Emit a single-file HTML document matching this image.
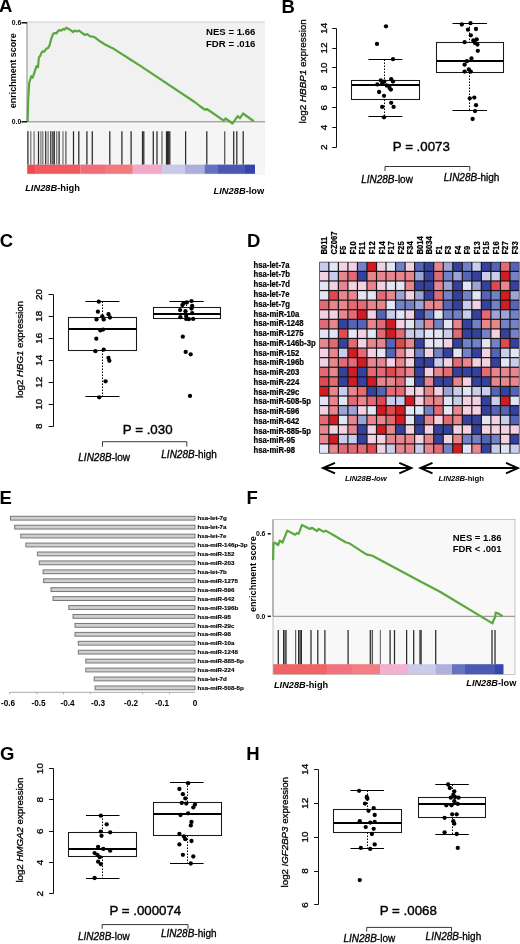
<!DOCTYPE html>
<html><head><meta charset="utf-8"><style>
html,body{margin:0;padding:0;background:#fff;}
body{width:520px;height:944px;overflow:hidden;}
svg{display:block;font-family:"Liberation Sans", sans-serif;filter:blur(0.4px);}
</style></head><body>
<svg width="520" height="944" viewBox="0 0 520 944">
<rect x="0" y="0" width="520" height="944" fill="#fff"/>
<text x="-1.0" y="12.4" font-size="18.5" font-weight="bold" font-style="normal" text-anchor="start" fill="#000">A</text>
<text x="281.5" y="12.5" font-size="18.5" font-weight="bold" font-style="normal" text-anchor="start" fill="#000">B</text>
<text x="-0.2" y="246.6" font-size="18.5" font-weight="bold" font-style="normal" text-anchor="start" fill="#000">C</text>
<text x="247.1" y="247.0" font-size="18.5" font-weight="bold" font-style="normal" text-anchor="start" fill="#000">D</text>
<text x="-0.6" y="503.7" font-size="18.5" font-weight="bold" font-style="normal" text-anchor="start" fill="#000">E</text>
<text x="246.4" y="503.6" font-size="18.5" font-weight="bold" font-style="normal" text-anchor="start" fill="#000">F</text>
<text x="-0.1" y="759.9" font-size="18.5" font-weight="bold" font-style="normal" text-anchor="start" fill="#000">G</text>
<text x="246.3" y="760.0" font-size="18.5" font-weight="bold" font-style="normal" text-anchor="start" fill="#000">H</text>
<rect x="27" y="22" width="238" height="153" fill="#f1f1f1" stroke="none" stroke-width="1"/>
<rect x="27" y="121.8" width="238" height="53.2" fill="#f5f5f5" stroke="none" stroke-width="1"/>
<line x1="27" y1="22" x2="265" y2="22" stroke="#c4c4c4" stroke-width="0.8"/>
<line x1="27" y1="22" x2="27" y2="121.8" stroke="#8a8a8a" stroke-width="1"/>
<line x1="27" y1="121.8" x2="265" y2="121.8" stroke="#7a7a7a" stroke-width="0.9"/>
<rect x="27.2" y="164.6" width="8.599999999999998" height="9.200000000000017" fill="#ef4a4e" stroke="none" stroke-width="1"/>
<rect x="35.8" y="164.6" width="44.5" height="9.200000000000017" fill="#f05a5e" stroke="none" stroke-width="1"/>
<rect x="80.3" y="164.6" width="24.700000000000003" height="9.200000000000017" fill="#f16e79" stroke="none" stroke-width="1"/>
<rect x="105" y="164.6" width="27.80000000000001" height="9.200000000000017" fill="#f27a7e" stroke="none" stroke-width="1"/>
<rect x="132.8" y="164.6" width="29.5" height="9.200000000000017" fill="#f4a9c9" stroke="none" stroke-width="1"/>
<rect x="162.3" y="164.6" width="22.69999999999999" height="9.200000000000017" fill="#c9c9e8" stroke="none" stroke-width="1"/>
<rect x="185" y="164.6" width="19.5" height="9.200000000000017" fill="#aeaedb" stroke="none" stroke-width="1"/>
<rect x="204.5" y="164.6" width="13.5" height="9.200000000000017" fill="#6272c0" stroke="none" stroke-width="1"/>
<rect x="218" y="164.6" width="27" height="9.200000000000017" fill="#4a58b2" stroke="none" stroke-width="1"/>
<rect x="245" y="164.6" width="10" height="9.200000000000017" fill="#3545ad" stroke="none" stroke-width="1"/>
<line x1="27.9" y1="131.3" x2="27.9" y2="164.6" stroke="#2a2a2a" stroke-width="1.25"/>
<line x1="30.8" y1="131.3" x2="30.8" y2="164.6" stroke="#777" stroke-width="1.25"/>
<line x1="34.1" y1="131.3" x2="34.1" y2="164.6" stroke="#777" stroke-width="1.25"/>
<line x1="38.5" y1="131.3" x2="38.5" y2="164.6" stroke="#2a2a2a" stroke-width="1.25"/>
<line x1="40.9" y1="131.3" x2="40.9" y2="164.6" stroke="#777" stroke-width="1.25"/>
<line x1="42.8" y1="131.3" x2="42.8" y2="164.6" stroke="#777" stroke-width="1.25"/>
<line x1="45.7" y1="131.3" x2="45.7" y2="164.6" stroke="#2a2a2a" stroke-width="1.25"/>
<line x1="48.1" y1="131.3" x2="48.1" y2="164.6" stroke="#777" stroke-width="1.25"/>
<line x1="50.8" y1="131.3" x2="50.8" y2="164.6" stroke="#2a2a2a" stroke-width="1.25"/>
<line x1="52.9" y1="131.3" x2="52.9" y2="164.6" stroke="#2a2a2a" stroke-width="1.25"/>
<line x1="54.3" y1="131.3" x2="54.3" y2="164.6" stroke="#2a2a2a" stroke-width="1.25"/>
<line x1="56.7" y1="131.3" x2="56.7" y2="164.6" stroke="#777" stroke-width="1.25"/>
<line x1="59.1" y1="131.3" x2="59.1" y2="164.6" stroke="#2a2a2a" stroke-width="1.25"/>
<line x1="63.0" y1="131.3" x2="63.0" y2="164.6" stroke="#777" stroke-width="1.25"/>
<line x1="65.9" y1="131.3" x2="65.9" y2="164.6" stroke="#555" stroke-width="1.25"/>
<line x1="73.5" y1="131.3" x2="73.5" y2="164.6" stroke="#2a2a2a" stroke-width="1.25"/>
<line x1="78.8" y1="131.3" x2="78.8" y2="164.6" stroke="#2a2a2a" stroke-width="1.25"/>
<line x1="86.9" y1="131.3" x2="86.9" y2="164.6" stroke="#2a2a2a" stroke-width="1.25"/>
<line x1="92.3" y1="131.3" x2="92.3" y2="164.6" stroke="#2a2a2a" stroke-width="1.25"/>
<line x1="109.8" y1="131.3" x2="109.8" y2="164.6" stroke="#2a2a2a" stroke-width="1.25"/>
<line x1="121.9" y1="131.3" x2="121.9" y2="164.6" stroke="#2a2a2a" stroke-width="1.25"/>
<line x1="131.1" y1="131.3" x2="131.1" y2="164.6" stroke="#2a2a2a" stroke-width="1.25"/>
<line x1="142.5" y1="131.3" x2="142.5" y2="164.6" stroke="#2a2a2a" stroke-width="1.25"/>
<line x1="143.8" y1="131.3" x2="143.8" y2="164.6" stroke="#2a2a2a" stroke-width="1.25"/>
<line x1="153.3" y1="131.3" x2="153.3" y2="164.6" stroke="#2a2a2a" stroke-width="1.25"/>
<line x1="157" y1="131.3" x2="157" y2="164.6" stroke="#2a2a2a" stroke-width="1.25"/>
<line x1="162" y1="131.3" x2="162" y2="164.6" stroke="#666" stroke-width="1.25"/>
<line x1="166.5" y1="131.3" x2="166.5" y2="164.6" stroke="#2a2a2a" stroke-width="1.25"/>
<line x1="167.6" y1="131.3" x2="167.6" y2="164.6" stroke="#2a2a2a" stroke-width="1.25"/>
<line x1="168.7" y1="131.3" x2="168.7" y2="164.6" stroke="#2a2a2a" stroke-width="1.25"/>
<line x1="169.8" y1="131.3" x2="169.8" y2="164.6" stroke="#2a2a2a" stroke-width="1.25"/>
<line x1="185.6" y1="131.3" x2="185.6" y2="164.6" stroke="#2a2a2a" stroke-width="1.25"/>
<line x1="206.8" y1="131.3" x2="206.8" y2="164.6" stroke="#2a2a2a" stroke-width="1.25"/>
<line x1="224.7" y1="131.3" x2="224.7" y2="164.6" stroke="#555" stroke-width="1.25"/>
<line x1="233.7" y1="131.3" x2="233.7" y2="164.6" stroke="#2a2a2a" stroke-width="1.25"/>
<line x1="236.8" y1="131.3" x2="236.8" y2="164.6" stroke="#2a2a2a" stroke-width="1.25"/>
<line x1="243.2" y1="131.3" x2="243.2" y2="164.6" stroke="#2a2a2a" stroke-width="1.25"/>
<polyline points="27.6,122 28.2,100 28.8,89 29.3,82.5 31.25,76.25 32.7,77.7 34.6,71.9 36.5,66.2 38,67.1 38.9,57.5 40.4,55.6 41.3,53.2 42.8,51.25 44.2,51.7 46.2,48.8 48.1,47.9 49.5,45.5 51,39.7 52.9,34.4 54.3,33 56.25,33.5 57.7,31.5 59.1,30.1 61.1,30.6 63,29.1 64.4,29.6 66.3,27.7 68.3,28.7 71.2,30.6 73.1,32 74.6,30.6 76.9,31.5 79.2,30.6 81.5,32.5 85,35 87.3,34.1 90.2,36.5 93.1,36.7 94.8,37.3 100,41.3 104.6,44.2 111.5,47.7 113.8,48.8 120.8,53.4 130,59.2 140,65.6 195,102.25 200,106.25 205,109.75 206.9,109 223.75,120.6 225.6,118.5 232.5,123.5 233.75,121.9 235,120 237.5,116.25 240,118.1 243.1,113.5 253.75,121.25" fill="none" stroke="#5aa83e" stroke-width="2.2" stroke-linejoin="round"/>
<line x1="21.5" y1="22.8" x2="27" y2="22.8" stroke="#000" stroke-width="1.4"/>
<line x1="21.5" y1="121.8" x2="27" y2="121.8" stroke="#000" stroke-width="1.4"/>
<text x="21.3" y="24.9" font-size="6.8" font-weight="bold" font-style="normal" text-anchor="end" fill="#000">0.6</text>
<text x="21.3" y="123.9" font-size="6.8" font-weight="bold" font-style="normal" text-anchor="end" fill="#000">0.0</text>
<text x="16.2" y="70.7" font-size="9.0" font-weight="bold" font-style="normal" text-anchor="middle" fill="#000" transform="rotate(-90 16.2 70.7)">enrichment score</text>
<text x="206.0" y="35.3" font-size="9.6" font-weight="bold" font-style="normal" text-anchor="start" fill="#000">NES = 1.66</text>
<text x="206.0" y="46.6" font-size="9.6" font-weight="bold" font-style="normal" text-anchor="start" fill="#000">FDR = .016</text>
<text x="25.2" y="190.5" font-size="9.3" font-weight="bold" text-anchor="start"><tspan font-style="italic">LIN28B</tspan>-high</text>
<text x="213.6" y="193.6" font-size="9.3" font-weight="bold" text-anchor="start"><tspan font-style="italic">LIN28B</tspan>-low</text>
<line x1="336.5" y1="28.5" x2="336.5" y2="147.5" stroke="#111" stroke-width="1.0"/>
<line x1="332.3" y1="28.5" x2="336.5" y2="28.5" stroke="#111" stroke-width="1.0"/>
<text x="323.05" y="28.2" font-size="9.9" font-weight="normal" font-style="normal" text-anchor="middle" fill="#000" transform="rotate(-90 323.05 28.2)" dominant-baseline="central" stroke="#000" stroke-width="0.3">14</text>
<line x1="332.3" y1="48.5" x2="336.5" y2="48.5" stroke="#111" stroke-width="1.0"/>
<text x="323.05" y="48.06" font-size="9.9" font-weight="normal" font-style="normal" text-anchor="middle" fill="#000" transform="rotate(-90 323.05 48.06)" dominant-baseline="central" stroke="#000" stroke-width="0.3">12</text>
<line x1="332.3" y1="67.5" x2="336.5" y2="67.5" stroke="#111" stroke-width="1.0"/>
<text x="323.05" y="67.92" font-size="9.9" font-weight="normal" font-style="normal" text-anchor="middle" fill="#000" transform="rotate(-90 323.05 67.92)" dominant-baseline="central" stroke="#000" stroke-width="0.3">10</text>
<line x1="332.3" y1="87.5" x2="336.5" y2="87.5" stroke="#111" stroke-width="1.0"/>
<text x="323.05" y="87.78" font-size="9.9" font-weight="normal" font-style="normal" text-anchor="middle" fill="#000" transform="rotate(-90 323.05 87.78)" dominant-baseline="central" stroke="#000" stroke-width="0.3">8</text>
<line x1="332.3" y1="107.5" x2="336.5" y2="107.5" stroke="#111" stroke-width="1.0"/>
<text x="323.05" y="107.64" font-size="9.9" font-weight="normal" font-style="normal" text-anchor="middle" fill="#000" transform="rotate(-90 323.05 107.64)" dominant-baseline="central" stroke="#000" stroke-width="0.3">6</text>
<line x1="332.3" y1="127.5" x2="336.5" y2="127.5" stroke="#111" stroke-width="1.0"/>
<text x="323.05" y="127.5" font-size="9.9" font-weight="normal" font-style="normal" text-anchor="middle" fill="#000" transform="rotate(-90 323.05 127.5)" dominant-baseline="central" stroke="#000" stroke-width="0.3">4</text>
<line x1="332.3" y1="147.5" x2="336.5" y2="147.5" stroke="#111" stroke-width="1.0"/>
<text x="323.05" y="147.35999999999999" font-size="9.9" font-weight="normal" font-style="normal" text-anchor="middle" fill="#000" transform="rotate(-90 323.05 147.35999999999999)" dominant-baseline="central" stroke="#000" stroke-width="0.3">2</text>
<line x1="384.5" y1="59.5" x2="384.5" y2="80.5" stroke="#000" stroke-width="1.0" stroke-dasharray="1.5,1.5"/>
<line x1="384.5" y1="99.5" x2="384.5" y2="116.5" stroke="#000" stroke-width="1.0" stroke-dasharray="1.5,1.5"/>
<line x1="368.4" y1="59.5" x2="402.3" y2="59.5" stroke="#000" stroke-width="1.1"/>
<line x1="368.4" y1="116.5" x2="402.3" y2="116.5" stroke="#000" stroke-width="1.1"/>
<rect x="351.5" y="80.5" width="68.0" height="19.0" fill="none" stroke="#1a1a1a" stroke-width="1.05"/>
<line x1="351.5" y1="85" x2="419.5" y2="85" stroke="#000" stroke-width="2.1"/>
<line x1="469.5" y1="23.5" x2="469.5" y2="42.5" stroke="#000" stroke-width="1.0" stroke-dasharray="1.5,1.5"/>
<line x1="469.5" y1="72.5" x2="469.5" y2="110.5" stroke="#000" stroke-width="1.0" stroke-dasharray="1.5,1.5"/>
<line x1="452.5" y1="23.5" x2="487.0" y2="23.5" stroke="#000" stroke-width="1.1"/>
<line x1="452.5" y1="110.5" x2="487.0" y2="110.5" stroke="#000" stroke-width="1.1"/>
<rect x="436.5" y="42.5" width="67.0" height="30.0" fill="none" stroke="#1a1a1a" stroke-width="1.05"/>
<line x1="436.5" y1="61" x2="503.5" y2="61" stroke="#000" stroke-width="2.1"/>
<circle cx="386" cy="26.3" r="2.15" fill="#000"/>
<circle cx="377" cy="43.9" r="2.15" fill="#000"/>
<circle cx="393" cy="59.2" r="2.15" fill="#000"/>
<circle cx="380.8" cy="80.3" r="2.15" fill="#000"/>
<circle cx="384.3" cy="81.6" r="2.15" fill="#000"/>
<circle cx="391.2" cy="79.2" r="2.15" fill="#000"/>
<circle cx="393" cy="81.6" r="2.15" fill="#000"/>
<circle cx="377.4" cy="84.4" r="2.15" fill="#000"/>
<circle cx="382.2" cy="83.7" r="2.15" fill="#000"/>
<circle cx="386.7" cy="85.5" r="2.15" fill="#000"/>
<circle cx="389.5" cy="87.9" r="2.15" fill="#000"/>
<circle cx="379.1" cy="92" r="2.15" fill="#000"/>
<circle cx="390.9" cy="89.6" r="2.15" fill="#000"/>
<circle cx="384" cy="95.8" r="2.15" fill="#000"/>
<circle cx="391.2" cy="102.8" r="2.15" fill="#000"/>
<circle cx="382.2" cy="106.9" r="2.15" fill="#000"/>
<circle cx="393.6" cy="106.9" r="2.15" fill="#000"/>
<circle cx="384" cy="117.3" r="2.15" fill="#000"/>
<circle cx="461.8" cy="24.5" r="2.15" fill="#000"/>
<circle cx="470.5" cy="23.2" r="2.15" fill="#000"/>
<circle cx="468" cy="29.7" r="2.15" fill="#000"/>
<circle cx="476" cy="29" r="2.15" fill="#000"/>
<circle cx="470.8" cy="35.3" r="2.15" fill="#000"/>
<circle cx="464.6" cy="42.2" r="2.15" fill="#000"/>
<circle cx="473.3" cy="40.5" r="2.15" fill="#000"/>
<circle cx="476.7" cy="39.4" r="2.15" fill="#000"/>
<circle cx="475" cy="42.9" r="2.15" fill="#000"/>
<circle cx="477.4" cy="44.6" r="2.15" fill="#000"/>
<circle cx="477.8" cy="50.8" r="2.15" fill="#000"/>
<circle cx="471.5" cy="58.5" r="2.15" fill="#000"/>
<circle cx="467" cy="61.2" r="2.15" fill="#000"/>
<circle cx="464.6" cy="64.7" r="2.15" fill="#000"/>
<circle cx="468.8" cy="69.5" r="2.15" fill="#000"/>
<circle cx="464.6" cy="71.6" r="2.15" fill="#000"/>
<circle cx="470.8" cy="71.6" r="2.15" fill="#000"/>
<circle cx="469.8" cy="98.3" r="2.15" fill="#000"/>
<circle cx="474.3" cy="97.6" r="2.15" fill="#000"/>
<circle cx="476" cy="105.2" r="2.15" fill="#000"/>
<circle cx="475" cy="111.1" r="2.15" fill="#000"/>
<circle cx="472.6" cy="119" r="2.15" fill="#000"/>
<text x="306.2" y="71.3" font-size="9.9" text-anchor="middle" stroke="#000" stroke-width="0.3" transform="rotate(-90 306.2 71.3)">log2 <tspan font-style="italic">HBBP1</tspan> expression</text>
<text x="421.35" y="151.2" font-size="13.3" font-weight="normal" font-style="normal" text-anchor="middle" fill="#000" stroke="#000" stroke-width="0.4">P = .0073</text>
<polyline points="385,171 385,166.5 469.8,166.5 469.8,171" fill="none" stroke="#000" stroke-width="0.8"/>
<text x="361.2" y="183" font-size="10" font-weight="normal" text-anchor="start" stroke="#000" stroke-width="0.3"><tspan font-style="italic">LIN28B</tspan>-low</text>
<text x="443.8" y="180.6" font-size="10" font-weight="normal" text-anchor="start" stroke="#000" stroke-width="0.3"><tspan font-style="italic">LIN28B</tspan>-high</text>
<line x1="53.5" y1="294.5" x2="53.5" y2="426.5" stroke="#111" stroke-width="1.0"/>
<line x1="48.6" y1="294.5" x2="53.5" y2="294.5" stroke="#111" stroke-width="1.0"/>
<text x="38.75" y="294.4" font-size="9.9" font-weight="normal" font-style="normal" text-anchor="middle" fill="#000" transform="rotate(-90 38.75 294.4)" dominant-baseline="central" stroke="#000" stroke-width="0.3">20</text>
<line x1="48.6" y1="316.5" x2="53.5" y2="316.5" stroke="#111" stroke-width="1.0"/>
<text x="38.75" y="316.35999999999996" font-size="9.9" font-weight="normal" font-style="normal" text-anchor="middle" fill="#000" transform="rotate(-90 38.75 316.35999999999996)" dominant-baseline="central" stroke="#000" stroke-width="0.3">18</text>
<line x1="48.6" y1="338.5" x2="53.5" y2="338.5" stroke="#111" stroke-width="1.0"/>
<text x="38.75" y="338.32" font-size="9.9" font-weight="normal" font-style="normal" text-anchor="middle" fill="#000" transform="rotate(-90 38.75 338.32)" dominant-baseline="central" stroke="#000" stroke-width="0.3">16</text>
<line x1="48.6" y1="360.5" x2="53.5" y2="360.5" stroke="#111" stroke-width="1.0"/>
<text x="38.75" y="360.28" font-size="9.9" font-weight="normal" font-style="normal" text-anchor="middle" fill="#000" transform="rotate(-90 38.75 360.28)" dominant-baseline="central" stroke="#000" stroke-width="0.3">14</text>
<line x1="48.6" y1="382.5" x2="53.5" y2="382.5" stroke="#111" stroke-width="1.0"/>
<text x="38.75" y="382.24" font-size="9.9" font-weight="normal" font-style="normal" text-anchor="middle" fill="#000" transform="rotate(-90 38.75 382.24)" dominant-baseline="central" stroke="#000" stroke-width="0.3">12</text>
<line x1="48.6" y1="404.5" x2="53.5" y2="404.5" stroke="#111" stroke-width="1.0"/>
<text x="38.75" y="404.2" font-size="9.9" font-weight="normal" font-style="normal" text-anchor="middle" fill="#000" transform="rotate(-90 38.75 404.2)" dominant-baseline="central" stroke="#000" stroke-width="0.3">10</text>
<line x1="48.6" y1="426.5" x2="53.5" y2="426.5" stroke="#111" stroke-width="1.0"/>
<text x="38.75" y="426.15999999999997" font-size="9.9" font-weight="normal" font-style="normal" text-anchor="middle" fill="#000" transform="rotate(-90 38.75 426.15999999999997)" dominant-baseline="central" stroke="#000" stroke-width="0.3">8</text>
<line x1="102.5" y1="301.5" x2="102.5" y2="317.5" stroke="#000" stroke-width="1.0" stroke-dasharray="1.5,1.5"/>
<line x1="102.5" y1="350.5" x2="102.5" y2="396.5" stroke="#000" stroke-width="1.0" stroke-dasharray="1.5,1.5"/>
<line x1="85.4" y1="301.5" x2="119.4" y2="301.5" stroke="#000" stroke-width="1.1"/>
<line x1="85.4" y1="396.5" x2="119.4" y2="396.5" stroke="#000" stroke-width="1.1"/>
<rect x="68.5" y="317.5" width="68.0" height="33.0" fill="none" stroke="#1a1a1a" stroke-width="1.05"/>
<line x1="68.5" y1="329" x2="136.5" y2="329" stroke="#000" stroke-width="2.1"/>
<line x1="186.5" y1="301.5" x2="186.5" y2="307.5" stroke="#000" stroke-width="1.0" stroke-dasharray="1.5,1.5"/>
<line x1="186.5" y1="318.5" x2="186.5" y2="318.5" stroke="#000" stroke-width="1.0" stroke-dasharray="1.5,1.5"/>
<line x1="169.5" y1="301.5" x2="203.7" y2="301.5" stroke="#000" stroke-width="1.1"/>
<line x1="169.5" y1="318.5" x2="203.7" y2="318.5" stroke="#000" stroke-width="1.1"/>
<rect x="153.5" y="307.5" width="67.0" height="11.0" fill="none" stroke="#1a1a1a" stroke-width="1.05"/>
<line x1="153.5" y1="314" x2="220.5" y2="314" stroke="#000" stroke-width="2.1"/>
<circle cx="98.8" cy="301.7" r="2.15" fill="#000"/>
<circle cx="97.9" cy="311.7" r="2.15" fill="#000"/>
<circle cx="96.5" cy="319.4" r="2.15" fill="#000"/>
<circle cx="102.3" cy="316.5" r="2.15" fill="#000"/>
<circle cx="103.7" cy="319.4" r="2.15" fill="#000"/>
<circle cx="108.5" cy="314.2" r="2.15" fill="#000"/>
<circle cx="110" cy="317.5" r="2.15" fill="#000"/>
<circle cx="100.4" cy="330.4" r="2.15" fill="#000"/>
<circle cx="103.1" cy="329.6" r="2.15" fill="#000"/>
<circle cx="96.3" cy="338.7" r="2.15" fill="#000"/>
<circle cx="95.4" cy="351.2" r="2.15" fill="#000"/>
<circle cx="103.7" cy="349.6" r="2.15" fill="#000"/>
<circle cx="108.5" cy="357.9" r="2.15" fill="#000"/>
<circle cx="109.4" cy="360.8" r="2.15" fill="#000"/>
<circle cx="105.6" cy="381.3" r="2.15" fill="#000"/>
<circle cx="99.2" cy="397.3" r="2.15" fill="#000"/>
<circle cx="183.5" cy="303.4" r="2.15" fill="#000"/>
<circle cx="186.8" cy="302.4" r="2.15" fill="#000"/>
<circle cx="191.5" cy="301.1" r="2.15" fill="#000"/>
<circle cx="182.4" cy="305.1" r="2.15" fill="#000"/>
<circle cx="192.2" cy="305.8" r="2.15" fill="#000"/>
<circle cx="191.5" cy="308.5" r="2.15" fill="#000"/>
<circle cx="180.1" cy="310.1" r="2.15" fill="#000"/>
<circle cx="185.5" cy="311.2" r="2.15" fill="#000"/>
<circle cx="192.2" cy="313.2" r="2.15" fill="#000"/>
<circle cx="180.4" cy="317.2" r="2.15" fill="#000"/>
<circle cx="186.2" cy="315.9" r="2.15" fill="#000"/>
<circle cx="186.2" cy="318.9" r="2.15" fill="#000"/>
<circle cx="188.8" cy="319.2" r="2.15" fill="#000"/>
<circle cx="193.2" cy="318.9" r="2.15" fill="#000"/>
<circle cx="182.8" cy="336.7" r="2.15" fill="#000"/>
<circle cx="185.7" cy="351.9" r="2.15" fill="#000"/>
<circle cx="190.7" cy="354.3" r="2.15" fill="#000"/>
<circle cx="190" cy="395.9" r="2.15" fill="#000"/>
<text x="23.3" y="349.5" font-size="9.7" text-anchor="middle" stroke="#000" stroke-width="0.3" transform="rotate(-90 23.3 349.5)">log2 <tspan font-style="italic">HBG1</tspan> expression</text>
<text x="147.7" y="433.6" font-size="13.3" font-weight="normal" font-style="normal" text-anchor="middle" fill="#000" stroke="#000" stroke-width="0.4">P = .030</text>
<polyline points="102.5,446.6 102.5,441.7 186.8,441.7 186.8,446.6" fill="none" stroke="#000" stroke-width="0.8"/>
<text x="78.3" y="460.5" font-size="10" font-weight="normal" text-anchor="start" stroke="#000" stroke-width="0.3"><tspan font-style="italic">LIN28B</tspan>-low</text>
<text x="161.3" y="458.4" font-size="10" font-weight="normal" text-anchor="start" stroke="#000" stroke-width="0.3"><tspan font-style="italic">LIN28B</tspan>-high</text>
<rect x="319.3" y="261.8" width="200.2" height="191.7" fill="#1a1418" stroke="none" stroke-width="1"/>
<rect x="319.9" y="262.4" width="8.33" height="8.38" fill="#c8cdec" stroke="none" stroke-width="1"/>
<rect x="329.43" y="262.4" width="8.33" height="8.38" fill="#e2e6f4" stroke="none" stroke-width="1"/>
<rect x="338.97" y="262.4" width="8.33" height="8.38" fill="#f2d2e2" stroke="none" stroke-width="1"/>
<rect x="348.5" y="262.4" width="8.33" height="8.38" fill="#f2d2e2" stroke="none" stroke-width="1"/>
<rect x="358.03" y="262.4" width="8.33" height="8.38" fill="#7282c6" stroke="none" stroke-width="1"/>
<rect x="367.57" y="262.4" width="8.33" height="8.38" fill="#d21c22" stroke="none" stroke-width="1"/>
<rect x="377.1" y="262.4" width="8.33" height="8.38" fill="#f2d2e2" stroke="none" stroke-width="1"/>
<rect x="386.63" y="262.4" width="8.33" height="8.38" fill="#e2e6f4" stroke="none" stroke-width="1"/>
<rect x="396.17" y="262.4" width="8.33" height="8.38" fill="#7282c6" stroke="none" stroke-width="1"/>
<rect x="405.7" y="262.4" width="8.33" height="8.38" fill="#f2d2e2" stroke="none" stroke-width="1"/>
<rect x="415.23" y="262.4" width="8.33" height="8.38" fill="#5464b6" stroke="none" stroke-width="1"/>
<rect x="424.77" y="262.4" width="8.33" height="8.38" fill="#34429e" stroke="none" stroke-width="1"/>
<rect x="434.3" y="262.4" width="8.33" height="8.38" fill="#e8868e" stroke="none" stroke-width="1"/>
<rect x="443.83" y="262.4" width="8.33" height="8.38" fill="#9aa4d6" stroke="none" stroke-width="1"/>
<rect x="453.37" y="262.4" width="8.33" height="8.38" fill="#34429e" stroke="none" stroke-width="1"/>
<rect x="462.9" y="262.4" width="8.33" height="8.38" fill="#7282c6" stroke="none" stroke-width="1"/>
<rect x="472.43" y="262.4" width="8.33" height="8.38" fill="#c8cdec" stroke="none" stroke-width="1"/>
<rect x="481.97" y="262.4" width="8.33" height="8.38" fill="#34429e" stroke="none" stroke-width="1"/>
<rect x="491.5" y="262.4" width="8.33" height="8.38" fill="#5464b6" stroke="none" stroke-width="1"/>
<rect x="501.03" y="262.4" width="8.33" height="8.38" fill="#e26a74" stroke="none" stroke-width="1"/>
<rect x="510.57" y="262.4" width="8.33" height="8.38" fill="#5464b6" stroke="none" stroke-width="1"/>
<rect x="319.9" y="271.99" width="8.33" height="8.38" fill="#f2d2e2" stroke="none" stroke-width="1"/>
<rect x="329.43" y="271.99" width="8.33" height="8.38" fill="#c8cdec" stroke="none" stroke-width="1"/>
<rect x="338.97" y="271.99" width="8.33" height="8.38" fill="#e8868e" stroke="none" stroke-width="1"/>
<rect x="348.5" y="271.99" width="8.33" height="8.38" fill="#e26a74" stroke="none" stroke-width="1"/>
<rect x="358.03" y="271.99" width="8.33" height="8.38" fill="#34429e" stroke="none" stroke-width="1"/>
<rect x="367.57" y="271.99" width="8.33" height="8.38" fill="#e8868e" stroke="none" stroke-width="1"/>
<rect x="377.1" y="271.99" width="8.33" height="8.38" fill="#e8868e" stroke="none" stroke-width="1"/>
<rect x="386.63" y="271.99" width="8.33" height="8.38" fill="#e8868e" stroke="none" stroke-width="1"/>
<rect x="396.17" y="271.99" width="8.33" height="8.38" fill="#e8868e" stroke="none" stroke-width="1"/>
<rect x="405.7" y="271.99" width="8.33" height="8.38" fill="#e8868e" stroke="none" stroke-width="1"/>
<rect x="415.23" y="271.99" width="8.33" height="8.38" fill="#9aa4d6" stroke="none" stroke-width="1"/>
<rect x="424.77" y="271.99" width="8.33" height="8.38" fill="#34429e" stroke="none" stroke-width="1"/>
<rect x="434.3" y="271.99" width="8.33" height="8.38" fill="#e26a74" stroke="none" stroke-width="1"/>
<rect x="443.83" y="271.99" width="8.33" height="8.38" fill="#7282c6" stroke="none" stroke-width="1"/>
<rect x="453.37" y="271.99" width="8.33" height="8.38" fill="#9aa4d6" stroke="none" stroke-width="1"/>
<rect x="462.9" y="271.99" width="8.33" height="8.38" fill="#5464b6" stroke="none" stroke-width="1"/>
<rect x="472.43" y="271.99" width="8.33" height="8.38" fill="#34429e" stroke="none" stroke-width="1"/>
<rect x="481.97" y="271.99" width="8.33" height="8.38" fill="#c8cdec" stroke="none" stroke-width="1"/>
<rect x="491.5" y="271.99" width="8.33" height="8.38" fill="#c8cdec" stroke="none" stroke-width="1"/>
<rect x="501.03" y="271.99" width="8.33" height="8.38" fill="#d21c22" stroke="none" stroke-width="1"/>
<rect x="510.57" y="271.99" width="8.33" height="8.38" fill="#7282c6" stroke="none" stroke-width="1"/>
<rect x="319.9" y="281.57" width="8.33" height="8.38" fill="#e2e6f4" stroke="none" stroke-width="1"/>
<rect x="329.43" y="281.57" width="8.33" height="8.38" fill="#f2d2e2" stroke="none" stroke-width="1"/>
<rect x="338.97" y="281.57" width="8.33" height="8.38" fill="#e8868e" stroke="none" stroke-width="1"/>
<rect x="348.5" y="281.57" width="8.33" height="8.38" fill="#f2d2e2" stroke="none" stroke-width="1"/>
<rect x="358.03" y="281.57" width="8.33" height="8.38" fill="#f2d2e2" stroke="none" stroke-width="1"/>
<rect x="367.57" y="281.57" width="8.33" height="8.38" fill="#e8868e" stroke="none" stroke-width="1"/>
<rect x="377.1" y="281.57" width="8.33" height="8.38" fill="#f2d2e2" stroke="none" stroke-width="1"/>
<rect x="386.63" y="281.57" width="8.33" height="8.38" fill="#e2e6f4" stroke="none" stroke-width="1"/>
<rect x="396.17" y="281.57" width="8.33" height="8.38" fill="#e2e6f4" stroke="none" stroke-width="1"/>
<rect x="405.7" y="281.57" width="8.33" height="8.38" fill="#e8868e" stroke="none" stroke-width="1"/>
<rect x="415.23" y="281.57" width="8.33" height="8.38" fill="#34429e" stroke="none" stroke-width="1"/>
<rect x="424.77" y="281.57" width="8.33" height="8.38" fill="#34429e" stroke="none" stroke-width="1"/>
<rect x="434.3" y="281.57" width="8.33" height="8.38" fill="#e8868e" stroke="none" stroke-width="1"/>
<rect x="443.83" y="281.57" width="8.33" height="8.38" fill="#9aa4d6" stroke="none" stroke-width="1"/>
<rect x="453.37" y="281.57" width="8.33" height="8.38" fill="#34429e" stroke="none" stroke-width="1"/>
<rect x="462.9" y="281.57" width="8.33" height="8.38" fill="#e2e6f4" stroke="none" stroke-width="1"/>
<rect x="472.43" y="281.57" width="8.33" height="8.38" fill="#9aa4d6" stroke="none" stroke-width="1"/>
<rect x="481.97" y="281.57" width="8.33" height="8.38" fill="#34429e" stroke="none" stroke-width="1"/>
<rect x="491.5" y="281.57" width="8.33" height="8.38" fill="#de4a50" stroke="none" stroke-width="1"/>
<rect x="501.03" y="281.57" width="8.33" height="8.38" fill="#e8868e" stroke="none" stroke-width="1"/>
<rect x="510.57" y="281.57" width="8.33" height="8.38" fill="#34429e" stroke="none" stroke-width="1"/>
<rect x="319.9" y="291.16" width="8.33" height="8.38" fill="#e2e6f4" stroke="none" stroke-width="1"/>
<rect x="329.43" y="291.16" width="8.33" height="8.38" fill="#de4a50" stroke="none" stroke-width="1"/>
<rect x="338.97" y="291.16" width="8.33" height="8.38" fill="#e8868e" stroke="none" stroke-width="1"/>
<rect x="348.5" y="291.16" width="8.33" height="8.38" fill="#e8868e" stroke="none" stroke-width="1"/>
<rect x="358.03" y="291.16" width="8.33" height="8.38" fill="#e2e6f4" stroke="none" stroke-width="1"/>
<rect x="367.57" y="291.16" width="8.33" height="8.38" fill="#e2e6f4" stroke="none" stroke-width="1"/>
<rect x="377.1" y="291.16" width="8.33" height="8.38" fill="#e26a74" stroke="none" stroke-width="1"/>
<rect x="386.63" y="291.16" width="8.33" height="8.38" fill="#e8868e" stroke="none" stroke-width="1"/>
<rect x="396.17" y="291.16" width="8.33" height="8.38" fill="#9aa4d6" stroke="none" stroke-width="1"/>
<rect x="405.7" y="291.16" width="8.33" height="8.38" fill="#f2d2e2" stroke="none" stroke-width="1"/>
<rect x="415.23" y="291.16" width="8.33" height="8.38" fill="#9aa4d6" stroke="none" stroke-width="1"/>
<rect x="424.77" y="291.16" width="8.33" height="8.38" fill="#34429e" stroke="none" stroke-width="1"/>
<rect x="434.3" y="291.16" width="8.33" height="8.38" fill="#e26a74" stroke="none" stroke-width="1"/>
<rect x="443.83" y="291.16" width="8.33" height="8.38" fill="#7282c6" stroke="none" stroke-width="1"/>
<rect x="453.37" y="291.16" width="8.33" height="8.38" fill="#34429e" stroke="none" stroke-width="1"/>
<rect x="462.9" y="291.16" width="8.33" height="8.38" fill="#7282c6" stroke="none" stroke-width="1"/>
<rect x="472.43" y="291.16" width="8.33" height="8.38" fill="#e2e6f4" stroke="none" stroke-width="1"/>
<rect x="481.97" y="291.16" width="8.33" height="8.38" fill="#5464b6" stroke="none" stroke-width="1"/>
<rect x="491.5" y="291.16" width="8.33" height="8.38" fill="#7282c6" stroke="none" stroke-width="1"/>
<rect x="501.03" y="291.16" width="8.33" height="8.38" fill="#d21c22" stroke="none" stroke-width="1"/>
<rect x="510.57" y="291.16" width="8.33" height="8.38" fill="#9aa4d6" stroke="none" stroke-width="1"/>
<rect x="319.9" y="300.74" width="8.33" height="8.38" fill="#e26a74" stroke="none" stroke-width="1"/>
<rect x="329.43" y="300.74" width="8.33" height="8.38" fill="#e8868e" stroke="none" stroke-width="1"/>
<rect x="338.97" y="300.74" width="8.33" height="8.38" fill="#e8868e" stroke="none" stroke-width="1"/>
<rect x="348.5" y="300.74" width="8.33" height="8.38" fill="#e26a74" stroke="none" stroke-width="1"/>
<rect x="358.03" y="300.74" width="8.33" height="8.38" fill="#e26a74" stroke="none" stroke-width="1"/>
<rect x="367.57" y="300.74" width="8.33" height="8.38" fill="#e8868e" stroke="none" stroke-width="1"/>
<rect x="377.1" y="300.74" width="8.33" height="8.38" fill="#e8868e" stroke="none" stroke-width="1"/>
<rect x="386.63" y="300.74" width="8.33" height="8.38" fill="#e2e6f4" stroke="none" stroke-width="1"/>
<rect x="396.17" y="300.74" width="8.33" height="8.38" fill="#7282c6" stroke="none" stroke-width="1"/>
<rect x="405.7" y="300.74" width="8.33" height="8.38" fill="#7282c6" stroke="none" stroke-width="1"/>
<rect x="415.23" y="300.74" width="8.33" height="8.38" fill="#9aa4d6" stroke="none" stroke-width="1"/>
<rect x="424.77" y="300.74" width="8.33" height="8.38" fill="#e8868e" stroke="none" stroke-width="1"/>
<rect x="434.3" y="300.74" width="8.33" height="8.38" fill="#e8868e" stroke="none" stroke-width="1"/>
<rect x="443.83" y="300.74" width="8.33" height="8.38" fill="#5464b6" stroke="none" stroke-width="1"/>
<rect x="453.37" y="300.74" width="8.33" height="8.38" fill="#34429e" stroke="none" stroke-width="1"/>
<rect x="462.9" y="300.74" width="8.33" height="8.38" fill="#c8cdec" stroke="none" stroke-width="1"/>
<rect x="472.43" y="300.74" width="8.33" height="8.38" fill="#f2d2e2" stroke="none" stroke-width="1"/>
<rect x="481.97" y="300.74" width="8.33" height="8.38" fill="#34429e" stroke="none" stroke-width="1"/>
<rect x="491.5" y="300.74" width="8.33" height="8.38" fill="#7282c6" stroke="none" stroke-width="1"/>
<rect x="501.03" y="300.74" width="8.33" height="8.38" fill="#d21c22" stroke="none" stroke-width="1"/>
<rect x="510.57" y="300.74" width="8.33" height="8.38" fill="#5464b6" stroke="none" stroke-width="1"/>
<rect x="319.9" y="310.33" width="8.33" height="8.38" fill="#f2d2e2" stroke="none" stroke-width="1"/>
<rect x="329.43" y="310.33" width="8.33" height="8.38" fill="#f2d2e2" stroke="none" stroke-width="1"/>
<rect x="338.97" y="310.33" width="8.33" height="8.38" fill="#e8868e" stroke="none" stroke-width="1"/>
<rect x="348.5" y="310.33" width="8.33" height="8.38" fill="#e26a74" stroke="none" stroke-width="1"/>
<rect x="358.03" y="310.33" width="8.33" height="8.38" fill="#d21c22" stroke="none" stroke-width="1"/>
<rect x="367.57" y="310.33" width="8.33" height="8.38" fill="#f2d2e2" stroke="none" stroke-width="1"/>
<rect x="377.1" y="310.33" width="8.33" height="8.38" fill="#5464b6" stroke="none" stroke-width="1"/>
<rect x="386.63" y="310.33" width="8.33" height="8.38" fill="#c8cdec" stroke="none" stroke-width="1"/>
<rect x="396.17" y="310.33" width="8.33" height="8.38" fill="#e2e6f4" stroke="none" stroke-width="1"/>
<rect x="405.7" y="310.33" width="8.33" height="8.38" fill="#f2d2e2" stroke="none" stroke-width="1"/>
<rect x="415.23" y="310.33" width="8.33" height="8.38" fill="#34429e" stroke="none" stroke-width="1"/>
<rect x="424.77" y="310.33" width="8.33" height="8.38" fill="#7282c6" stroke="none" stroke-width="1"/>
<rect x="434.3" y="310.33" width="8.33" height="8.38" fill="#e2e6f4" stroke="none" stroke-width="1"/>
<rect x="443.83" y="310.33" width="8.33" height="8.38" fill="#7282c6" stroke="none" stroke-width="1"/>
<rect x="453.37" y="310.33" width="8.33" height="8.38" fill="#7282c6" stroke="none" stroke-width="1"/>
<rect x="462.9" y="310.33" width="8.33" height="8.38" fill="#c8cdec" stroke="none" stroke-width="1"/>
<rect x="472.43" y="310.33" width="8.33" height="8.38" fill="#34429e" stroke="none" stroke-width="1"/>
<rect x="481.97" y="310.33" width="8.33" height="8.38" fill="#e26a74" stroke="none" stroke-width="1"/>
<rect x="491.5" y="310.33" width="8.33" height="8.38" fill="#9aa4d6" stroke="none" stroke-width="1"/>
<rect x="501.03" y="310.33" width="8.33" height="8.38" fill="#9aa4d6" stroke="none" stroke-width="1"/>
<rect x="510.57" y="310.33" width="8.33" height="8.38" fill="#7282c6" stroke="none" stroke-width="1"/>
<rect x="319.9" y="319.91" width="8.33" height="8.38" fill="#e26a74" stroke="none" stroke-width="1"/>
<rect x="329.43" y="319.91" width="8.33" height="8.38" fill="#e8868e" stroke="none" stroke-width="1"/>
<rect x="338.97" y="319.91" width="8.33" height="8.38" fill="#34429e" stroke="none" stroke-width="1"/>
<rect x="348.5" y="319.91" width="8.33" height="8.38" fill="#5464b6" stroke="none" stroke-width="1"/>
<rect x="358.03" y="319.91" width="8.33" height="8.38" fill="#5464b6" stroke="none" stroke-width="1"/>
<rect x="367.57" y="319.91" width="8.33" height="8.38" fill="#e8868e" stroke="none" stroke-width="1"/>
<rect x="377.1" y="319.91" width="8.33" height="8.38" fill="#e26a74" stroke="none" stroke-width="1"/>
<rect x="386.63" y="319.91" width="8.33" height="8.38" fill="#d21c22" stroke="none" stroke-width="1"/>
<rect x="396.17" y="319.91" width="8.33" height="8.38" fill="#f2d2e2" stroke="none" stroke-width="1"/>
<rect x="405.7" y="319.91" width="8.33" height="8.38" fill="#e2e6f4" stroke="none" stroke-width="1"/>
<rect x="415.23" y="319.91" width="8.33" height="8.38" fill="#9aa4d6" stroke="none" stroke-width="1"/>
<rect x="424.77" y="319.91" width="8.33" height="8.38" fill="#e8868e" stroke="none" stroke-width="1"/>
<rect x="434.3" y="319.91" width="8.33" height="8.38" fill="#7282c6" stroke="none" stroke-width="1"/>
<rect x="443.83" y="319.91" width="8.33" height="8.38" fill="#e2e6f4" stroke="none" stroke-width="1"/>
<rect x="453.37" y="319.91" width="8.33" height="8.38" fill="#e8868e" stroke="none" stroke-width="1"/>
<rect x="462.9" y="319.91" width="8.33" height="8.38" fill="#34429e" stroke="none" stroke-width="1"/>
<rect x="472.43" y="319.91" width="8.33" height="8.38" fill="#7282c6" stroke="none" stroke-width="1"/>
<rect x="481.97" y="319.91" width="8.33" height="8.38" fill="#e8868e" stroke="none" stroke-width="1"/>
<rect x="491.5" y="319.91" width="8.33" height="8.38" fill="#e8868e" stroke="none" stroke-width="1"/>
<rect x="501.03" y="319.91" width="8.33" height="8.38" fill="#7282c6" stroke="none" stroke-width="1"/>
<rect x="510.57" y="319.91" width="8.33" height="8.38" fill="#7282c6" stroke="none" stroke-width="1"/>
<rect x="319.9" y="329.5" width="8.33" height="8.38" fill="#e2e6f4" stroke="none" stroke-width="1"/>
<rect x="329.43" y="329.5" width="8.33" height="8.38" fill="#e2e6f4" stroke="none" stroke-width="1"/>
<rect x="338.97" y="329.5" width="8.33" height="8.38" fill="#de4a50" stroke="none" stroke-width="1"/>
<rect x="348.5" y="329.5" width="8.33" height="8.38" fill="#e2e6f4" stroke="none" stroke-width="1"/>
<rect x="358.03" y="329.5" width="8.33" height="8.38" fill="#f2d2e2" stroke="none" stroke-width="1"/>
<rect x="367.57" y="329.5" width="8.33" height="8.38" fill="#e2e6f4" stroke="none" stroke-width="1"/>
<rect x="377.1" y="329.5" width="8.33" height="8.38" fill="#e26a74" stroke="none" stroke-width="1"/>
<rect x="386.63" y="329.5" width="8.33" height="8.38" fill="#d21c22" stroke="none" stroke-width="1"/>
<rect x="396.17" y="329.5" width="8.33" height="8.38" fill="#e26a74" stroke="none" stroke-width="1"/>
<rect x="405.7" y="329.5" width="8.33" height="8.38" fill="#c8cdec" stroke="none" stroke-width="1"/>
<rect x="415.23" y="329.5" width="8.33" height="8.38" fill="#c8cdec" stroke="none" stroke-width="1"/>
<rect x="424.77" y="329.5" width="8.33" height="8.38" fill="#e2e6f4" stroke="none" stroke-width="1"/>
<rect x="434.3" y="329.5" width="8.33" height="8.38" fill="#e2e6f4" stroke="none" stroke-width="1"/>
<rect x="443.83" y="329.5" width="8.33" height="8.38" fill="#c8cdec" stroke="none" stroke-width="1"/>
<rect x="453.37" y="329.5" width="8.33" height="8.38" fill="#e26a74" stroke="none" stroke-width="1"/>
<rect x="462.9" y="329.5" width="8.33" height="8.38" fill="#34429e" stroke="none" stroke-width="1"/>
<rect x="472.43" y="329.5" width="8.33" height="8.38" fill="#34429e" stroke="none" stroke-width="1"/>
<rect x="481.97" y="329.5" width="8.33" height="8.38" fill="#7282c6" stroke="none" stroke-width="1"/>
<rect x="491.5" y="329.5" width="8.33" height="8.38" fill="#f2d2e2" stroke="none" stroke-width="1"/>
<rect x="501.03" y="329.5" width="8.33" height="8.38" fill="#34429e" stroke="none" stroke-width="1"/>
<rect x="510.57" y="329.5" width="8.33" height="8.38" fill="#7282c6" stroke="none" stroke-width="1"/>
<rect x="319.9" y="339.08" width="8.33" height="8.38" fill="#e8868e" stroke="none" stroke-width="1"/>
<rect x="329.43" y="339.08" width="8.33" height="8.38" fill="#e26a74" stroke="none" stroke-width="1"/>
<rect x="338.97" y="339.08" width="8.33" height="8.38" fill="#34429e" stroke="none" stroke-width="1"/>
<rect x="348.5" y="339.08" width="8.33" height="8.38" fill="#e26a74" stroke="none" stroke-width="1"/>
<rect x="358.03" y="339.08" width="8.33" height="8.38" fill="#f2d2e2" stroke="none" stroke-width="1"/>
<rect x="367.57" y="339.08" width="8.33" height="8.38" fill="#e8868e" stroke="none" stroke-width="1"/>
<rect x="377.1" y="339.08" width="8.33" height="8.38" fill="#e8868e" stroke="none" stroke-width="1"/>
<rect x="386.63" y="339.08" width="8.33" height="8.38" fill="#5464b6" stroke="none" stroke-width="1"/>
<rect x="396.17" y="339.08" width="8.33" height="8.38" fill="#de4a50" stroke="none" stroke-width="1"/>
<rect x="405.7" y="339.08" width="8.33" height="8.38" fill="#e8868e" stroke="none" stroke-width="1"/>
<rect x="415.23" y="339.08" width="8.33" height="8.38" fill="#34429e" stroke="none" stroke-width="1"/>
<rect x="424.77" y="339.08" width="8.33" height="8.38" fill="#e2e6f4" stroke="none" stroke-width="1"/>
<rect x="434.3" y="339.08" width="8.33" height="8.38" fill="#e2e6f4" stroke="none" stroke-width="1"/>
<rect x="443.83" y="339.08" width="8.33" height="8.38" fill="#f2d2e2" stroke="none" stroke-width="1"/>
<rect x="453.37" y="339.08" width="8.33" height="8.38" fill="#34429e" stroke="none" stroke-width="1"/>
<rect x="462.9" y="339.08" width="8.33" height="8.38" fill="#7282c6" stroke="none" stroke-width="1"/>
<rect x="472.43" y="339.08" width="8.33" height="8.38" fill="#7282c6" stroke="none" stroke-width="1"/>
<rect x="481.97" y="339.08" width="8.33" height="8.38" fill="#e2e6f4" stroke="none" stroke-width="1"/>
<rect x="491.5" y="339.08" width="8.33" height="8.38" fill="#7282c6" stroke="none" stroke-width="1"/>
<rect x="501.03" y="339.08" width="8.33" height="8.38" fill="#de4a50" stroke="none" stroke-width="1"/>
<rect x="510.57" y="339.08" width="8.33" height="8.38" fill="#34429e" stroke="none" stroke-width="1"/>
<rect x="319.9" y="348.67" width="8.33" height="8.38" fill="#f2d2e2" stroke="none" stroke-width="1"/>
<rect x="329.43" y="348.67" width="8.33" height="8.38" fill="#e8868e" stroke="none" stroke-width="1"/>
<rect x="338.97" y="348.67" width="8.33" height="8.38" fill="#c8cdec" stroke="none" stroke-width="1"/>
<rect x="348.5" y="348.67" width="8.33" height="8.38" fill="#d21c22" stroke="none" stroke-width="1"/>
<rect x="358.03" y="348.67" width="8.33" height="8.38" fill="#e26a74" stroke="none" stroke-width="1"/>
<rect x="367.57" y="348.67" width="8.33" height="8.38" fill="#f2d2e2" stroke="none" stroke-width="1"/>
<rect x="377.1" y="348.67" width="8.33" height="8.38" fill="#e2e6f4" stroke="none" stroke-width="1"/>
<rect x="386.63" y="348.67" width="8.33" height="8.38" fill="#5464b6" stroke="none" stroke-width="1"/>
<rect x="396.17" y="348.67" width="8.33" height="8.38" fill="#e8868e" stroke="none" stroke-width="1"/>
<rect x="405.7" y="348.67" width="8.33" height="8.38" fill="#f2d2e2" stroke="none" stroke-width="1"/>
<rect x="415.23" y="348.67" width="8.33" height="8.38" fill="#7282c6" stroke="none" stroke-width="1"/>
<rect x="424.77" y="348.67" width="8.33" height="8.38" fill="#f2d2e2" stroke="none" stroke-width="1"/>
<rect x="434.3" y="348.67" width="8.33" height="8.38" fill="#7282c6" stroke="none" stroke-width="1"/>
<rect x="443.83" y="348.67" width="8.33" height="8.38" fill="#34429e" stroke="none" stroke-width="1"/>
<rect x="453.37" y="348.67" width="8.33" height="8.38" fill="#e2e6f4" stroke="none" stroke-width="1"/>
<rect x="462.9" y="348.67" width="8.33" height="8.38" fill="#7282c6" stroke="none" stroke-width="1"/>
<rect x="472.43" y="348.67" width="8.33" height="8.38" fill="#34429e" stroke="none" stroke-width="1"/>
<rect x="481.97" y="348.67" width="8.33" height="8.38" fill="#f2d2e2" stroke="none" stroke-width="1"/>
<rect x="491.5" y="348.67" width="8.33" height="8.38" fill="#5464b6" stroke="none" stroke-width="1"/>
<rect x="501.03" y="348.67" width="8.33" height="8.38" fill="#c8cdec" stroke="none" stroke-width="1"/>
<rect x="510.57" y="348.67" width="8.33" height="8.38" fill="#e2e6f4" stroke="none" stroke-width="1"/>
<rect x="319.9" y="358.25" width="8.33" height="8.38" fill="#f2d2e2" stroke="none" stroke-width="1"/>
<rect x="329.43" y="358.25" width="8.33" height="8.38" fill="#e8868e" stroke="none" stroke-width="1"/>
<rect x="338.97" y="358.25" width="8.33" height="8.38" fill="#e26a74" stroke="none" stroke-width="1"/>
<rect x="348.5" y="358.25" width="8.33" height="8.38" fill="#e26a74" stroke="none" stroke-width="1"/>
<rect x="358.03" y="358.25" width="8.33" height="8.38" fill="#d21c22" stroke="none" stroke-width="1"/>
<rect x="367.57" y="358.25" width="8.33" height="8.38" fill="#e8868e" stroke="none" stroke-width="1"/>
<rect x="377.1" y="358.25" width="8.33" height="8.38" fill="#e8868e" stroke="none" stroke-width="1"/>
<rect x="386.63" y="358.25" width="8.33" height="8.38" fill="#f2d2e2" stroke="none" stroke-width="1"/>
<rect x="396.17" y="358.25" width="8.33" height="8.38" fill="#e8868e" stroke="none" stroke-width="1"/>
<rect x="405.7" y="358.25" width="8.33" height="8.38" fill="#f2d2e2" stroke="none" stroke-width="1"/>
<rect x="415.23" y="358.25" width="8.33" height="8.38" fill="#34429e" stroke="none" stroke-width="1"/>
<rect x="424.77" y="358.25" width="8.33" height="8.38" fill="#34429e" stroke="none" stroke-width="1"/>
<rect x="434.3" y="358.25" width="8.33" height="8.38" fill="#c8cdec" stroke="none" stroke-width="1"/>
<rect x="443.83" y="358.25" width="8.33" height="8.38" fill="#f2d2e2" stroke="none" stroke-width="1"/>
<rect x="453.37" y="358.25" width="8.33" height="8.38" fill="#e26a74" stroke="none" stroke-width="1"/>
<rect x="462.9" y="358.25" width="8.33" height="8.38" fill="#e8868e" stroke="none" stroke-width="1"/>
<rect x="472.43" y="358.25" width="8.33" height="8.38" fill="#f2d2e2" stroke="none" stroke-width="1"/>
<rect x="481.97" y="358.25" width="8.33" height="8.38" fill="#f2d2e2" stroke="none" stroke-width="1"/>
<rect x="491.5" y="358.25" width="8.33" height="8.38" fill="#34429e" stroke="none" stroke-width="1"/>
<rect x="501.03" y="358.25" width="8.33" height="8.38" fill="#e2e6f4" stroke="none" stroke-width="1"/>
<rect x="510.57" y="358.25" width="8.33" height="8.38" fill="#c8cdec" stroke="none" stroke-width="1"/>
<rect x="319.9" y="367.84" width="8.33" height="8.38" fill="#e26a74" stroke="none" stroke-width="1"/>
<rect x="329.43" y="367.84" width="8.33" height="8.38" fill="#e8868e" stroke="none" stroke-width="1"/>
<rect x="338.97" y="367.84" width="8.33" height="8.38" fill="#34429e" stroke="none" stroke-width="1"/>
<rect x="348.5" y="367.84" width="8.33" height="8.38" fill="#d21c22" stroke="none" stroke-width="1"/>
<rect x="358.03" y="367.84" width="8.33" height="8.38" fill="#34429e" stroke="none" stroke-width="1"/>
<rect x="367.57" y="367.84" width="8.33" height="8.38" fill="#e26a74" stroke="none" stroke-width="1"/>
<rect x="377.1" y="367.84" width="8.33" height="8.38" fill="#e26a74" stroke="none" stroke-width="1"/>
<rect x="386.63" y="367.84" width="8.33" height="8.38" fill="#de4a50" stroke="none" stroke-width="1"/>
<rect x="396.17" y="367.84" width="8.33" height="8.38" fill="#e26a74" stroke="none" stroke-width="1"/>
<rect x="405.7" y="367.84" width="8.33" height="8.38" fill="#e8868e" stroke="none" stroke-width="1"/>
<rect x="415.23" y="367.84" width="8.33" height="8.38" fill="#34429e" stroke="none" stroke-width="1"/>
<rect x="424.77" y="367.84" width="8.33" height="8.38" fill="#f2d2e2" stroke="none" stroke-width="1"/>
<rect x="434.3" y="367.84" width="8.33" height="8.38" fill="#e8868e" stroke="none" stroke-width="1"/>
<rect x="443.83" y="367.84" width="8.33" height="8.38" fill="#e26a74" stroke="none" stroke-width="1"/>
<rect x="453.37" y="367.84" width="8.33" height="8.38" fill="#34429e" stroke="none" stroke-width="1"/>
<rect x="462.9" y="367.84" width="8.33" height="8.38" fill="#34429e" stroke="none" stroke-width="1"/>
<rect x="472.43" y="367.84" width="8.33" height="8.38" fill="#34429e" stroke="none" stroke-width="1"/>
<rect x="481.97" y="367.84" width="8.33" height="8.38" fill="#e26a74" stroke="none" stroke-width="1"/>
<rect x="491.5" y="367.84" width="8.33" height="8.38" fill="#e8868e" stroke="none" stroke-width="1"/>
<rect x="501.03" y="367.84" width="8.33" height="8.38" fill="#e8868e" stroke="none" stroke-width="1"/>
<rect x="510.57" y="367.84" width="8.33" height="8.38" fill="#e8868e" stroke="none" stroke-width="1"/>
<rect x="319.9" y="377.42" width="8.33" height="8.38" fill="#de4a50" stroke="none" stroke-width="1"/>
<rect x="329.43" y="377.42" width="8.33" height="8.38" fill="#e26a74" stroke="none" stroke-width="1"/>
<rect x="338.97" y="377.42" width="8.33" height="8.38" fill="#34429e" stroke="none" stroke-width="1"/>
<rect x="348.5" y="377.42" width="8.33" height="8.38" fill="#d21c22" stroke="none" stroke-width="1"/>
<rect x="358.03" y="377.42" width="8.33" height="8.38" fill="#34429e" stroke="none" stroke-width="1"/>
<rect x="367.57" y="377.42" width="8.33" height="8.38" fill="#d21c22" stroke="none" stroke-width="1"/>
<rect x="377.1" y="377.42" width="8.33" height="8.38" fill="#e8868e" stroke="none" stroke-width="1"/>
<rect x="386.63" y="377.42" width="8.33" height="8.38" fill="#e8868e" stroke="none" stroke-width="1"/>
<rect x="396.17" y="377.42" width="8.33" height="8.38" fill="#e26a74" stroke="none" stroke-width="1"/>
<rect x="405.7" y="377.42" width="8.33" height="8.38" fill="#e2e6f4" stroke="none" stroke-width="1"/>
<rect x="415.23" y="377.42" width="8.33" height="8.38" fill="#34429e" stroke="none" stroke-width="1"/>
<rect x="424.77" y="377.42" width="8.33" height="8.38" fill="#e8868e" stroke="none" stroke-width="1"/>
<rect x="434.3" y="377.42" width="8.33" height="8.38" fill="#34429e" stroke="none" stroke-width="1"/>
<rect x="443.83" y="377.42" width="8.33" height="8.38" fill="#34429e" stroke="none" stroke-width="1"/>
<rect x="453.37" y="377.42" width="8.33" height="8.38" fill="#e8868e" stroke="none" stroke-width="1"/>
<rect x="462.9" y="377.42" width="8.33" height="8.38" fill="#f2d2e2" stroke="none" stroke-width="1"/>
<rect x="472.43" y="377.42" width="8.33" height="8.38" fill="#34429e" stroke="none" stroke-width="1"/>
<rect x="481.97" y="377.42" width="8.33" height="8.38" fill="#34429e" stroke="none" stroke-width="1"/>
<rect x="491.5" y="377.42" width="8.33" height="8.38" fill="#e8868e" stroke="none" stroke-width="1"/>
<rect x="501.03" y="377.42" width="8.33" height="8.38" fill="#e8868e" stroke="none" stroke-width="1"/>
<rect x="510.57" y="377.42" width="8.33" height="8.38" fill="#e8868e" stroke="none" stroke-width="1"/>
<rect x="319.9" y="387.0" width="8.33" height="8.38" fill="#d21c22" stroke="none" stroke-width="1"/>
<rect x="329.43" y="387.0" width="8.33" height="8.38" fill="#e8868e" stroke="none" stroke-width="1"/>
<rect x="338.97" y="387.0" width="8.33" height="8.38" fill="#c8cdec" stroke="none" stroke-width="1"/>
<rect x="348.5" y="387.0" width="8.33" height="8.38" fill="#e8868e" stroke="none" stroke-width="1"/>
<rect x="358.03" y="387.0" width="8.33" height="8.38" fill="#e26a74" stroke="none" stroke-width="1"/>
<rect x="367.57" y="387.0" width="8.33" height="8.38" fill="#34429e" stroke="none" stroke-width="1"/>
<rect x="377.1" y="387.0" width="8.33" height="8.38" fill="#5464b6" stroke="none" stroke-width="1"/>
<rect x="386.63" y="387.0" width="8.33" height="8.38" fill="#e26a74" stroke="none" stroke-width="1"/>
<rect x="396.17" y="387.0" width="8.33" height="8.38" fill="#e26a74" stroke="none" stroke-width="1"/>
<rect x="405.7" y="387.0" width="8.33" height="8.38" fill="#f2d2e2" stroke="none" stroke-width="1"/>
<rect x="415.23" y="387.0" width="8.33" height="8.38" fill="#f2d2e2" stroke="none" stroke-width="1"/>
<rect x="424.77" y="387.0" width="8.33" height="8.38" fill="#e8868e" stroke="none" stroke-width="1"/>
<rect x="434.3" y="387.0" width="8.33" height="8.38" fill="#f2d2e2" stroke="none" stroke-width="1"/>
<rect x="443.83" y="387.0" width="8.33" height="8.38" fill="#9aa4d6" stroke="none" stroke-width="1"/>
<rect x="453.37" y="387.0" width="8.33" height="8.38" fill="#c8cdec" stroke="none" stroke-width="1"/>
<rect x="462.9" y="387.0" width="8.33" height="8.38" fill="#e2e6f4" stroke="none" stroke-width="1"/>
<rect x="472.43" y="387.0" width="8.33" height="8.38" fill="#c8cdec" stroke="none" stroke-width="1"/>
<rect x="481.97" y="387.0" width="8.33" height="8.38" fill="#c8cdec" stroke="none" stroke-width="1"/>
<rect x="491.5" y="387.0" width="8.33" height="8.38" fill="#5464b6" stroke="none" stroke-width="1"/>
<rect x="501.03" y="387.0" width="8.33" height="8.38" fill="#34429e" stroke="none" stroke-width="1"/>
<rect x="510.57" y="387.0" width="8.33" height="8.38" fill="#5464b6" stroke="none" stroke-width="1"/>
<rect x="319.9" y="396.59" width="8.33" height="8.38" fill="#e2e6f4" stroke="none" stroke-width="1"/>
<rect x="329.43" y="396.59" width="8.33" height="8.38" fill="#e8868e" stroke="none" stroke-width="1"/>
<rect x="338.97" y="396.59" width="8.33" height="8.38" fill="#e2e6f4" stroke="none" stroke-width="1"/>
<rect x="348.5" y="396.59" width="8.33" height="8.38" fill="#e26a74" stroke="none" stroke-width="1"/>
<rect x="358.03" y="396.59" width="8.33" height="8.38" fill="#e8868e" stroke="none" stroke-width="1"/>
<rect x="367.57" y="396.59" width="8.33" height="8.38" fill="#e26a74" stroke="none" stroke-width="1"/>
<rect x="377.1" y="396.59" width="8.33" height="8.38" fill="#de4a50" stroke="none" stroke-width="1"/>
<rect x="386.63" y="396.59" width="8.33" height="8.38" fill="#c8cdec" stroke="none" stroke-width="1"/>
<rect x="396.17" y="396.59" width="8.33" height="8.38" fill="#c8cdec" stroke="none" stroke-width="1"/>
<rect x="405.7" y="396.59" width="8.33" height="8.38" fill="#d21c22" stroke="none" stroke-width="1"/>
<rect x="415.23" y="396.59" width="8.33" height="8.38" fill="#f2d2e2" stroke="none" stroke-width="1"/>
<rect x="424.77" y="396.59" width="8.33" height="8.38" fill="#e8868e" stroke="none" stroke-width="1"/>
<rect x="434.3" y="396.59" width="8.33" height="8.38" fill="#e8868e" stroke="none" stroke-width="1"/>
<rect x="443.83" y="396.59" width="8.33" height="8.38" fill="#e2e6f4" stroke="none" stroke-width="1"/>
<rect x="453.37" y="396.59" width="8.33" height="8.38" fill="#c8cdec" stroke="none" stroke-width="1"/>
<rect x="462.9" y="396.59" width="8.33" height="8.38" fill="#f2d2e2" stroke="none" stroke-width="1"/>
<rect x="472.43" y="396.59" width="8.33" height="8.38" fill="#f2d2e2" stroke="none" stroke-width="1"/>
<rect x="481.97" y="396.59" width="8.33" height="8.38" fill="#34429e" stroke="none" stroke-width="1"/>
<rect x="491.5" y="396.59" width="8.33" height="8.38" fill="#c8cdec" stroke="none" stroke-width="1"/>
<rect x="501.03" y="396.59" width="8.33" height="8.38" fill="#d21c22" stroke="none" stroke-width="1"/>
<rect x="510.57" y="396.59" width="8.33" height="8.38" fill="#e2e6f4" stroke="none" stroke-width="1"/>
<rect x="319.9" y="406.18" width="8.33" height="8.38" fill="#f2d2e2" stroke="none" stroke-width="1"/>
<rect x="329.43" y="406.18" width="8.33" height="8.38" fill="#e8868e" stroke="none" stroke-width="1"/>
<rect x="338.97" y="406.18" width="8.33" height="8.38" fill="#9aa4d6" stroke="none" stroke-width="1"/>
<rect x="348.5" y="406.18" width="8.33" height="8.38" fill="#9aa4d6" stroke="none" stroke-width="1"/>
<rect x="358.03" y="406.18" width="8.33" height="8.38" fill="#f2d2e2" stroke="none" stroke-width="1"/>
<rect x="367.57" y="406.18" width="8.33" height="8.38" fill="#e2e6f4" stroke="none" stroke-width="1"/>
<rect x="377.1" y="406.18" width="8.33" height="8.38" fill="#d21c22" stroke="none" stroke-width="1"/>
<rect x="386.63" y="406.18" width="8.33" height="8.38" fill="#de4a50" stroke="none" stroke-width="1"/>
<rect x="396.17" y="406.18" width="8.33" height="8.38" fill="#d21c22" stroke="none" stroke-width="1"/>
<rect x="405.7" y="406.18" width="8.33" height="8.38" fill="#e2e6f4" stroke="none" stroke-width="1"/>
<rect x="415.23" y="406.18" width="8.33" height="8.38" fill="#e2e6f4" stroke="none" stroke-width="1"/>
<rect x="424.77" y="406.18" width="8.33" height="8.38" fill="#7282c6" stroke="none" stroke-width="1"/>
<rect x="434.3" y="406.18" width="8.33" height="8.38" fill="#e26a74" stroke="none" stroke-width="1"/>
<rect x="443.83" y="406.18" width="8.33" height="8.38" fill="#e2e6f4" stroke="none" stroke-width="1"/>
<rect x="453.37" y="406.18" width="8.33" height="8.38" fill="#e8868e" stroke="none" stroke-width="1"/>
<rect x="462.9" y="406.18" width="8.33" height="8.38" fill="#f2d2e2" stroke="none" stroke-width="1"/>
<rect x="472.43" y="406.18" width="8.33" height="8.38" fill="#f2d2e2" stroke="none" stroke-width="1"/>
<rect x="481.97" y="406.18" width="8.33" height="8.38" fill="#34429e" stroke="none" stroke-width="1"/>
<rect x="491.5" y="406.18" width="8.33" height="8.38" fill="#5464b6" stroke="none" stroke-width="1"/>
<rect x="501.03" y="406.18" width="8.33" height="8.38" fill="#5464b6" stroke="none" stroke-width="1"/>
<rect x="510.57" y="406.18" width="8.33" height="8.38" fill="#34429e" stroke="none" stroke-width="1"/>
<rect x="319.9" y="415.76" width="8.33" height="8.38" fill="#e26a74" stroke="none" stroke-width="1"/>
<rect x="329.43" y="415.76" width="8.33" height="8.38" fill="#d21c22" stroke="none" stroke-width="1"/>
<rect x="338.97" y="415.76" width="8.33" height="8.38" fill="#e2e6f4" stroke="none" stroke-width="1"/>
<rect x="348.5" y="415.76" width="8.33" height="8.38" fill="#e8868e" stroke="none" stroke-width="1"/>
<rect x="358.03" y="415.76" width="8.33" height="8.38" fill="#9aa4d6" stroke="none" stroke-width="1"/>
<rect x="367.57" y="415.76" width="8.33" height="8.38" fill="#e8868e" stroke="none" stroke-width="1"/>
<rect x="377.1" y="415.76" width="8.33" height="8.38" fill="#e8868e" stroke="none" stroke-width="1"/>
<rect x="386.63" y="415.76" width="8.33" height="8.38" fill="#e26a74" stroke="none" stroke-width="1"/>
<rect x="396.17" y="415.76" width="8.33" height="8.38" fill="#d21c22" stroke="none" stroke-width="1"/>
<rect x="405.7" y="415.76" width="8.33" height="8.38" fill="#e2e6f4" stroke="none" stroke-width="1"/>
<rect x="415.23" y="415.76" width="8.33" height="8.38" fill="#34429e" stroke="none" stroke-width="1"/>
<rect x="424.77" y="415.76" width="8.33" height="8.38" fill="#e8868e" stroke="none" stroke-width="1"/>
<rect x="434.3" y="415.76" width="8.33" height="8.38" fill="#f2d2e2" stroke="none" stroke-width="1"/>
<rect x="443.83" y="415.76" width="8.33" height="8.38" fill="#e26a74" stroke="none" stroke-width="1"/>
<rect x="453.37" y="415.76" width="8.33" height="8.38" fill="#e8868e" stroke="none" stroke-width="1"/>
<rect x="462.9" y="415.76" width="8.33" height="8.38" fill="#34429e" stroke="none" stroke-width="1"/>
<rect x="472.43" y="415.76" width="8.33" height="8.38" fill="#34429e" stroke="none" stroke-width="1"/>
<rect x="481.97" y="415.76" width="8.33" height="8.38" fill="#e2e6f4" stroke="none" stroke-width="1"/>
<rect x="491.5" y="415.76" width="8.33" height="8.38" fill="#f2d2e2" stroke="none" stroke-width="1"/>
<rect x="501.03" y="415.76" width="8.33" height="8.38" fill="#c8cdec" stroke="none" stroke-width="1"/>
<rect x="510.57" y="415.76" width="8.33" height="8.38" fill="#5464b6" stroke="none" stroke-width="1"/>
<rect x="319.9" y="425.35" width="8.33" height="8.38" fill="#e8868e" stroke="none" stroke-width="1"/>
<rect x="329.43" y="425.35" width="8.33" height="8.38" fill="#f2d2e2" stroke="none" stroke-width="1"/>
<rect x="338.97" y="425.35" width="8.33" height="8.38" fill="#f2d2e2" stroke="none" stroke-width="1"/>
<rect x="348.5" y="425.35" width="8.33" height="8.38" fill="#e8868e" stroke="none" stroke-width="1"/>
<rect x="358.03" y="425.35" width="8.33" height="8.38" fill="#34429e" stroke="none" stroke-width="1"/>
<rect x="367.57" y="425.35" width="8.33" height="8.38" fill="#f2d2e2" stroke="none" stroke-width="1"/>
<rect x="377.1" y="425.35" width="8.33" height="8.38" fill="#d21c22" stroke="none" stroke-width="1"/>
<rect x="386.63" y="425.35" width="8.33" height="8.38" fill="#e8868e" stroke="none" stroke-width="1"/>
<rect x="396.17" y="425.35" width="8.33" height="8.38" fill="#34429e" stroke="none" stroke-width="1"/>
<rect x="405.7" y="425.35" width="8.33" height="8.38" fill="#f2d2e2" stroke="none" stroke-width="1"/>
<rect x="415.23" y="425.35" width="8.33" height="8.38" fill="#34429e" stroke="none" stroke-width="1"/>
<rect x="424.77" y="425.35" width="8.33" height="8.38" fill="#f2d2e2" stroke="none" stroke-width="1"/>
<rect x="434.3" y="425.35" width="8.33" height="8.38" fill="#34429e" stroke="none" stroke-width="1"/>
<rect x="443.83" y="425.35" width="8.33" height="8.38" fill="#34429e" stroke="none" stroke-width="1"/>
<rect x="453.37" y="425.35" width="8.33" height="8.38" fill="#f2d2e2" stroke="none" stroke-width="1"/>
<rect x="462.9" y="425.35" width="8.33" height="8.38" fill="#f2d2e2" stroke="none" stroke-width="1"/>
<rect x="472.43" y="425.35" width="8.33" height="8.38" fill="#34429e" stroke="none" stroke-width="1"/>
<rect x="481.97" y="425.35" width="8.33" height="8.38" fill="#f2d2e2" stroke="none" stroke-width="1"/>
<rect x="491.5" y="425.35" width="8.33" height="8.38" fill="#f2d2e2" stroke="none" stroke-width="1"/>
<rect x="501.03" y="425.35" width="8.33" height="8.38" fill="#f2d2e2" stroke="none" stroke-width="1"/>
<rect x="510.57" y="425.35" width="8.33" height="8.38" fill="#f2d2e2" stroke="none" stroke-width="1"/>
<rect x="319.9" y="434.93" width="8.33" height="8.38" fill="#e8868e" stroke="none" stroke-width="1"/>
<rect x="329.43" y="434.93" width="8.33" height="8.38" fill="#d21c22" stroke="none" stroke-width="1"/>
<rect x="338.97" y="434.93" width="8.33" height="8.38" fill="#c8cdec" stroke="none" stroke-width="1"/>
<rect x="348.5" y="434.93" width="8.33" height="8.38" fill="#c8cdec" stroke="none" stroke-width="1"/>
<rect x="358.03" y="434.93" width="8.33" height="8.38" fill="#34429e" stroke="none" stroke-width="1"/>
<rect x="367.57" y="434.93" width="8.33" height="8.38" fill="#f2d2e2" stroke="none" stroke-width="1"/>
<rect x="377.1" y="434.93" width="8.33" height="8.38" fill="#f2d2e2" stroke="none" stroke-width="1"/>
<rect x="386.63" y="434.93" width="8.33" height="8.38" fill="#e8868e" stroke="none" stroke-width="1"/>
<rect x="396.17" y="434.93" width="8.33" height="8.38" fill="#e8868e" stroke="none" stroke-width="1"/>
<rect x="405.7" y="434.93" width="8.33" height="8.38" fill="#e8868e" stroke="none" stroke-width="1"/>
<rect x="415.23" y="434.93" width="8.33" height="8.38" fill="#f2d2e2" stroke="none" stroke-width="1"/>
<rect x="424.77" y="434.93" width="8.33" height="8.38" fill="#e8868e" stroke="none" stroke-width="1"/>
<rect x="434.3" y="434.93" width="8.33" height="8.38" fill="#34429e" stroke="none" stroke-width="1"/>
<rect x="443.83" y="434.93" width="8.33" height="8.38" fill="#f2d2e2" stroke="none" stroke-width="1"/>
<rect x="453.37" y="434.93" width="8.33" height="8.38" fill="#e8868e" stroke="none" stroke-width="1"/>
<rect x="462.9" y="434.93" width="8.33" height="8.38" fill="#7282c6" stroke="none" stroke-width="1"/>
<rect x="472.43" y="434.93" width="8.33" height="8.38" fill="#7282c6" stroke="none" stroke-width="1"/>
<rect x="481.97" y="434.93" width="8.33" height="8.38" fill="#5464b6" stroke="none" stroke-width="1"/>
<rect x="491.5" y="434.93" width="8.33" height="8.38" fill="#7282c6" stroke="none" stroke-width="1"/>
<rect x="501.03" y="434.93" width="8.33" height="8.38" fill="#f2d2e2" stroke="none" stroke-width="1"/>
<rect x="510.57" y="434.93" width="8.33" height="8.38" fill="#34429e" stroke="none" stroke-width="1"/>
<rect x="319.9" y="444.51" width="8.33" height="8.38" fill="#e2e6f4" stroke="none" stroke-width="1"/>
<rect x="329.43" y="444.51" width="8.33" height="8.38" fill="#e8868e" stroke="none" stroke-width="1"/>
<rect x="338.97" y="444.51" width="8.33" height="8.38" fill="#e26a74" stroke="none" stroke-width="1"/>
<rect x="348.5" y="444.51" width="8.33" height="8.38" fill="#e26a74" stroke="none" stroke-width="1"/>
<rect x="358.03" y="444.51" width="8.33" height="8.38" fill="#e26a74" stroke="none" stroke-width="1"/>
<rect x="367.57" y="444.51" width="8.33" height="8.38" fill="#de4a50" stroke="none" stroke-width="1"/>
<rect x="377.1" y="444.51" width="8.33" height="8.38" fill="#f2d2e2" stroke="none" stroke-width="1"/>
<rect x="386.63" y="444.51" width="8.33" height="8.38" fill="#c8cdec" stroke="none" stroke-width="1"/>
<rect x="396.17" y="444.51" width="8.33" height="8.38" fill="#e8868e" stroke="none" stroke-width="1"/>
<rect x="405.7" y="444.51" width="8.33" height="8.38" fill="#e8868e" stroke="none" stroke-width="1"/>
<rect x="415.23" y="444.51" width="8.33" height="8.38" fill="#c8cdec" stroke="none" stroke-width="1"/>
<rect x="424.77" y="444.51" width="8.33" height="8.38" fill="#e8868e" stroke="none" stroke-width="1"/>
<rect x="434.3" y="444.51" width="8.33" height="8.38" fill="#e26a74" stroke="none" stroke-width="1"/>
<rect x="443.83" y="444.51" width="8.33" height="8.38" fill="#7282c6" stroke="none" stroke-width="1"/>
<rect x="453.37" y="444.51" width="8.33" height="8.38" fill="#d21c22" stroke="none" stroke-width="1"/>
<rect x="462.9" y="444.51" width="8.33" height="8.38" fill="#e2e6f4" stroke="none" stroke-width="1"/>
<rect x="472.43" y="444.51" width="8.33" height="8.38" fill="#e8868e" stroke="none" stroke-width="1"/>
<rect x="481.97" y="444.51" width="8.33" height="8.38" fill="#34429e" stroke="none" stroke-width="1"/>
<rect x="491.5" y="444.51" width="8.33" height="8.38" fill="#c8cdec" stroke="none" stroke-width="1"/>
<rect x="501.03" y="444.51" width="8.33" height="8.38" fill="#e2e6f4" stroke="none" stroke-width="1"/>
<rect x="510.57" y="444.51" width="8.33" height="8.38" fill="#c8cdec" stroke="none" stroke-width="1"/>
<text x="0" y="0" font-size="7.7" font-weight="bold" stroke="#000" stroke-width="0.2" transform="translate(324.07 254.6) rotate(-90) scale(1 1.2)" dominant-baseline="central">B011</text>
<text x="0" y="0" font-size="7.7" font-weight="bold" stroke="#000" stroke-width="0.2" transform="translate(333.60 254.6) rotate(-90) scale(1 1.2)" dominant-baseline="central">CZ067</text>
<text x="0" y="0" font-size="7.7" font-weight="bold" stroke="#000" stroke-width="0.2" transform="translate(343.13 254.6) rotate(-90) scale(1 1.2)" dominant-baseline="central">F5</text>
<text x="0" y="0" font-size="7.7" font-weight="bold" stroke="#000" stroke-width="0.2" transform="translate(352.67 254.6) rotate(-90) scale(1 1.2)" dominant-baseline="central">F10</text>
<text x="0" y="0" font-size="7.7" font-weight="bold" stroke="#000" stroke-width="0.2" transform="translate(362.20 254.6) rotate(-90) scale(1 1.2)" dominant-baseline="central">F11</text>
<text x="0" y="0" font-size="7.7" font-weight="bold" stroke="#000" stroke-width="0.2" transform="translate(371.73 254.6) rotate(-90) scale(1 1.2)" dominant-baseline="central">F12</text>
<text x="0" y="0" font-size="7.7" font-weight="bold" stroke="#000" stroke-width="0.2" transform="translate(381.27 254.6) rotate(-90) scale(1 1.2)" dominant-baseline="central">F14</text>
<text x="0" y="0" font-size="7.7" font-weight="bold" stroke="#000" stroke-width="0.2" transform="translate(390.80 254.6) rotate(-90) scale(1 1.2)" dominant-baseline="central">F17</text>
<text x="0" y="0" font-size="7.7" font-weight="bold" stroke="#000" stroke-width="0.2" transform="translate(400.33 254.6) rotate(-90) scale(1 1.2)" dominant-baseline="central">F25</text>
<text x="0" y="0" font-size="7.7" font-weight="bold" stroke="#000" stroke-width="0.2" transform="translate(409.87 254.6) rotate(-90) scale(1 1.2)" dominant-baseline="central">F34</text>
<text x="0" y="0" font-size="7.7" font-weight="bold" stroke="#000" stroke-width="0.2" transform="translate(419.40 254.6) rotate(-90) scale(1 1.2)" dominant-baseline="central">B014</text>
<text x="0" y="0" font-size="7.7" font-weight="bold" stroke="#000" stroke-width="0.2" transform="translate(428.93 254.6) rotate(-90) scale(1 1.2)" dominant-baseline="central">B034</text>
<text x="0" y="0" font-size="7.7" font-weight="bold" stroke="#000" stroke-width="0.2" transform="translate(438.47 254.6) rotate(-90) scale(1 1.2)" dominant-baseline="central">F1</text>
<text x="0" y="0" font-size="7.7" font-weight="bold" stroke="#000" stroke-width="0.2" transform="translate(448.00 254.6) rotate(-90) scale(1 1.2)" dominant-baseline="central">F3</text>
<text x="0" y="0" font-size="7.7" font-weight="bold" stroke="#000" stroke-width="0.2" transform="translate(457.53 254.6) rotate(-90) scale(1 1.2)" dominant-baseline="central">F4</text>
<text x="0" y="0" font-size="7.7" font-weight="bold" stroke="#000" stroke-width="0.2" transform="translate(467.07 254.6) rotate(-90) scale(1 1.2)" dominant-baseline="central">F9</text>
<text x="0" y="0" font-size="7.7" font-weight="bold" stroke="#000" stroke-width="0.2" transform="translate(476.60 254.6) rotate(-90) scale(1 1.2)" dominant-baseline="central">F13</text>
<text x="0" y="0" font-size="7.7" font-weight="bold" stroke="#000" stroke-width="0.2" transform="translate(486.13 254.6) rotate(-90) scale(1 1.2)" dominant-baseline="central">F15</text>
<text x="0" y="0" font-size="7.7" font-weight="bold" stroke="#000" stroke-width="0.2" transform="translate(495.67 254.6) rotate(-90) scale(1 1.2)" dominant-baseline="central">F16</text>
<text x="0" y="0" font-size="7.7" font-weight="bold" stroke="#000" stroke-width="0.2" transform="translate(505.20 254.6) rotate(-90) scale(1 1.2)" dominant-baseline="central">F27</text>
<text x="0" y="0" font-size="7.7" font-weight="bold" stroke="#000" stroke-width="0.2" transform="translate(514.73 254.6) rotate(-90) scale(1 1.2)" dominant-baseline="central">F33</text>
<text x="0" y="0" font-size="7.7" font-weight="bold" stroke="#000" stroke-width="0.2" transform="translate(253.6 267.70) scale(1 1.2)">hsa-let-7a</text>
<text x="0" y="0" font-size="7.7" font-weight="bold" stroke="#000" stroke-width="0.2" transform="translate(253.6 277.46) scale(1 1.2)">hsa-let-7b</text>
<text x="0" y="0" font-size="7.7" font-weight="bold" stroke="#000" stroke-width="0.2" transform="translate(253.6 287.22) scale(1 1.2)">hsa-let-7d</text>
<text x="0" y="0" font-size="7.7" font-weight="bold" stroke="#000" stroke-width="0.2" transform="translate(253.6 296.98) scale(1 1.2)">hsa-let-7e</text>
<text x="0" y="0" font-size="7.7" font-weight="bold" stroke="#000" stroke-width="0.2" transform="translate(253.6 306.74) scale(1 1.2)">hsa-let-7g</text>
<text x="0" y="0" font-size="7.7" font-weight="bold" stroke="#000" stroke-width="0.2" transform="translate(253.6 316.50) scale(1 1.2)">hsa-miR-10a</text>
<text x="0" y="0" font-size="7.7" font-weight="bold" stroke="#000" stroke-width="0.2" transform="translate(253.6 326.26) scale(1 1.2)">hsa-miR-1248</text>
<text x="0" y="0" font-size="7.7" font-weight="bold" stroke="#000" stroke-width="0.2" transform="translate(253.6 336.02) scale(1 1.2)">hsa-miR-1275</text>
<text x="0" y="0" font-size="7.7" font-weight="bold" stroke="#000" stroke-width="0.2" transform="translate(253.6 345.78) scale(1 1.2)">hsa-miR-146b-3p</text>
<text x="0" y="0" font-size="7.7" font-weight="bold" stroke="#000" stroke-width="0.2" transform="translate(253.6 355.54) scale(1 1.2)">hsa-miR-152</text>
<text x="0" y="0" font-size="7.7" font-weight="bold" stroke="#000" stroke-width="0.2" transform="translate(253.6 365.30) scale(1 1.2)">hsa-miR-196b</text>
<text x="0" y="0" font-size="7.7" font-weight="bold" stroke="#000" stroke-width="0.2" transform="translate(253.6 375.06) scale(1 1.2)">hsa-miR-203</text>
<text x="0" y="0" font-size="7.7" font-weight="bold" stroke="#000" stroke-width="0.2" transform="translate(253.6 384.82) scale(1 1.2)">hsa-miR-224</text>
<text x="0" y="0" font-size="7.7" font-weight="bold" stroke="#000" stroke-width="0.2" transform="translate(253.6 394.58) scale(1 1.2)">hsa-miR-29c</text>
<text x="0" y="0" font-size="7.7" font-weight="bold" stroke="#000" stroke-width="0.2" transform="translate(253.6 404.34) scale(1 1.2)">hsa-miR-508-5p</text>
<text x="0" y="0" font-size="7.7" font-weight="bold" stroke="#000" stroke-width="0.2" transform="translate(253.6 414.10) scale(1 1.2)">hsa-miR-596</text>
<text x="0" y="0" font-size="7.7" font-weight="bold" stroke="#000" stroke-width="0.2" transform="translate(253.6 423.86) scale(1 1.2)">hsa-miR-642</text>
<text x="0" y="0" font-size="7.7" font-weight="bold" stroke="#000" stroke-width="0.2" transform="translate(253.6 433.62) scale(1 1.2)">hsa-miR-885-5p</text>
<text x="0" y="0" font-size="7.7" font-weight="bold" stroke="#000" stroke-width="0.2" transform="translate(253.6 443.38) scale(1 1.2)">hsa-miR-95</text>
<text x="0" y="0" font-size="7.7" font-weight="bold" stroke="#000" stroke-width="0.2" transform="translate(253.6 453.14) scale(1 1.2)">hsa-miR-98</text>
<line x1="323" y1="468.1" x2="411.3" y2="468.1" stroke="#000" stroke-width="2"/>
<polyline points="335,462.8 323,468.1 335,473.40000000000003" fill="none" stroke="#000" stroke-width="2"/>
<polyline points="399.3,462.8 411.3,468.1 399.3,473.40000000000003" fill="none" stroke="#000" stroke-width="2"/>
<line x1="420.5" y1="468.1" x2="518" y2="468.1" stroke="#000" stroke-width="2"/>
<polyline points="432.5,462.8 420.5,468.1 432.5,473.40000000000003" fill="none" stroke="#000" stroke-width="2"/>
<polyline points="506,462.8 518,468.1 506,473.40000000000003" fill="none" stroke="#000" stroke-width="2"/>
<text x="344.9" y="481.3" font-size="7.7" font-weight="bold" font-style="italic">LIN28B-low</text>
<text x="438.6" y="481.4" font-size="7.7" font-weight="bold" text-anchor="start"><tspan font-style="italic">LIN28B</tspan>-high</text>
<rect x="10.5" y="516.3" width="184.5" height="3.8" fill="#d0d0d0" stroke="#767676" stroke-width="1"/>
<text x="197.6" y="520.4" font-size="6.2" font-weight="bold" font-style="normal" text-anchor="start" fill="#000" stroke="#000" stroke-width="0.15">hsa-let-7g</text>
<rect x="14.7" y="525.2299999999999" width="180.3" height="3.8" fill="#d0d0d0" stroke="#767676" stroke-width="1"/>
<text x="197.6" y="529.3299999999999" font-size="6.2" font-weight="bold" font-style="normal" text-anchor="start" fill="#000" stroke="#000" stroke-width="0.15">hsa-let-7a</text>
<rect x="20.8" y="534.16" width="174.2" height="3.8" fill="#d0d0d0" stroke="#767676" stroke-width="1"/>
<text x="197.6" y="538.26" font-size="6.2" font-weight="bold" font-style="normal" text-anchor="start" fill="#000" stroke="#000" stroke-width="0.15">hsa-let-7e</text>
<rect x="25.9" y="543.0899999999999" width="169.1" height="3.8" fill="#d0d0d0" stroke="#767676" stroke-width="1"/>
<text x="197.6" y="547.1899999999999" font-size="6.2" font-weight="bold" font-style="normal" text-anchor="start" fill="#000" stroke="#000" stroke-width="0.15">hsa-miR-146p-3p</text>
<rect x="37.4" y="552.02" width="157.6" height="3.8" fill="#d0d0d0" stroke="#767676" stroke-width="1"/>
<text x="197.6" y="556.12" font-size="6.2" font-weight="bold" font-style="normal" text-anchor="start" fill="#000" stroke="#000" stroke-width="0.15">hsa-miR-152</text>
<rect x="39.3" y="560.9499999999999" width="155.7" height="3.8" fill="#d0d0d0" stroke="#767676" stroke-width="1"/>
<text x="197.6" y="565.05" font-size="6.2" font-weight="bold" font-style="normal" text-anchor="start" fill="#000" stroke="#000" stroke-width="0.15">hsa-miR-203</text>
<rect x="43.1" y="569.88" width="151.9" height="3.8" fill="#d0d0d0" stroke="#767676" stroke-width="1"/>
<text x="197.6" y="573.98" font-size="6.2" font-weight="bold" font-style="normal" text-anchor="start" fill="#000" stroke="#000" stroke-width="0.15">hsa-let-7b</text>
<rect x="43.6" y="578.81" width="151.4" height="3.8" fill="#d0d0d0" stroke="#767676" stroke-width="1"/>
<text x="197.6" y="582.91" font-size="6.2" font-weight="bold" font-style="normal" text-anchor="start" fill="#000" stroke="#000" stroke-width="0.15">hsa-miR-1275</text>
<rect x="51.0" y="587.74" width="144.0" height="3.8" fill="#d0d0d0" stroke="#767676" stroke-width="1"/>
<text x="197.6" y="591.84" font-size="6.2" font-weight="bold" font-style="normal" text-anchor="start" fill="#000" stroke="#000" stroke-width="0.15">hsa-miR-596</text>
<rect x="53.0" y="596.67" width="142.0" height="3.8" fill="#d0d0d0" stroke="#767676" stroke-width="1"/>
<text x="197.6" y="600.77" font-size="6.2" font-weight="bold" font-style="normal" text-anchor="start" fill="#000" stroke="#000" stroke-width="0.15">hsa-miR-642</text>
<rect x="68.8" y="605.5999999999999" width="126.2" height="3.8" fill="#d0d0d0" stroke="#767676" stroke-width="1"/>
<text x="197.6" y="609.6999999999999" font-size="6.2" font-weight="bold" font-style="normal" text-anchor="start" fill="#000" stroke="#000" stroke-width="0.15">hsa-miR-196b</text>
<rect x="73.1" y="614.53" width="121.9" height="3.8" fill="#d0d0d0" stroke="#767676" stroke-width="1"/>
<text x="197.6" y="618.63" font-size="6.2" font-weight="bold" font-style="normal" text-anchor="start" fill="#000" stroke="#000" stroke-width="0.15">hsa-miR-95</text>
<rect x="75.0" y="623.4599999999999" width="120.0" height="3.8" fill="#d0d0d0" stroke="#767676" stroke-width="1"/>
<text x="197.6" y="627.56" font-size="6.2" font-weight="bold" font-style="normal" text-anchor="start" fill="#000" stroke="#000" stroke-width="0.15">hsa-miR-29c</text>
<rect x="75.0" y="632.39" width="120.0" height="3.8" fill="#d0d0d0" stroke="#767676" stroke-width="1"/>
<text x="197.6" y="636.49" font-size="6.2" font-weight="bold" font-style="normal" text-anchor="start" fill="#000" stroke="#000" stroke-width="0.15">hsa-miR-98</text>
<rect x="78.3" y="641.3199999999999" width="116.7" height="3.8" fill="#d0d0d0" stroke="#767676" stroke-width="1"/>
<text x="197.6" y="645.42" font-size="6.2" font-weight="bold" font-style="normal" text-anchor="start" fill="#000" stroke="#000" stroke-width="0.15">hsa-miR-10a</text>
<rect x="78.3" y="650.25" width="116.7" height="3.8" fill="#d0d0d0" stroke="#767676" stroke-width="1"/>
<text x="197.6" y="654.35" font-size="6.2" font-weight="bold" font-style="normal" text-anchor="start" fill="#000" stroke="#000" stroke-width="0.15">hsa-miR-1248</text>
<rect x="85.8" y="659.18" width="109.2" height="3.8" fill="#d0d0d0" stroke="#767676" stroke-width="1"/>
<text x="197.6" y="663.28" font-size="6.2" font-weight="bold" font-style="normal" text-anchor="start" fill="#000" stroke="#000" stroke-width="0.15">hsa-miR-885-5p</text>
<rect x="85.8" y="668.1099999999999" width="109.2" height="3.8" fill="#d0d0d0" stroke="#767676" stroke-width="1"/>
<text x="197.6" y="672.2099999999999" font-size="6.2" font-weight="bold" font-style="normal" text-anchor="start" fill="#000" stroke="#000" stroke-width="0.15">hsa-miR-224</text>
<rect x="94.2" y="677.04" width="100.8" height="3.8" fill="#d0d0d0" stroke="#767676" stroke-width="1"/>
<text x="197.6" y="681.14" font-size="6.2" font-weight="bold" font-style="normal" text-anchor="start" fill="#000" stroke="#000" stroke-width="0.15">hsa-let-7d</text>
<rect x="95.1" y="685.9699999999999" width="99.9" height="3.8" fill="#d0d0d0" stroke="#767676" stroke-width="1"/>
<text x="197.6" y="690.0699999999999" font-size="6.2" font-weight="bold" font-style="normal" text-anchor="start" fill="#000" stroke="#000" stroke-width="0.15">hsa-miR-508-5p</text>
<line x1="9.6" y1="692.3" x2="195.3" y2="692.3" stroke="#a0a0a0" stroke-width="0.9"/>
<line x1="9.6" y1="692.3" x2="9.6" y2="694.2" stroke="#a0a0a0" stroke-width="0.9"/>
<line x1="37.0" y1="692.3" x2="37.0" y2="694.2" stroke="#a0a0a0" stroke-width="0.9"/>
<line x1="63.5" y1="692.3" x2="63.5" y2="694.2" stroke="#a0a0a0" stroke-width="0.9"/>
<line x1="90.4" y1="692.3" x2="90.4" y2="694.2" stroke="#a0a0a0" stroke-width="0.9"/>
<line x1="142.6" y1="692.3" x2="142.6" y2="694.2" stroke="#a0a0a0" stroke-width="0.9"/>
<line x1="169.6" y1="692.3" x2="169.6" y2="694.2" stroke="#a0a0a0" stroke-width="0.9"/>
<text x="8.0" y="705.7" font-size="8.2" font-weight="bold" font-style="normal" text-anchor="middle" fill="#000">-0.6</text>
<text x="38.5" y="705.7" font-size="8.2" font-weight="bold" font-style="normal" text-anchor="middle" fill="#000">-0.5</text>
<text x="67.5" y="705.7" font-size="8.2" font-weight="bold" font-style="normal" text-anchor="middle" fill="#000">-0.4</text>
<text x="98.0" y="705.7" font-size="8.2" font-weight="bold" font-style="normal" text-anchor="middle" fill="#000">-0.3</text>
<text x="131.0" y="705.7" font-size="8.2" font-weight="bold" font-style="normal" text-anchor="middle" fill="#000">-0.2</text>
<text x="162.0" y="705.7" font-size="8.2" font-weight="bold" font-style="normal" text-anchor="middle" fill="#000">-0.1</text>
<text x="195.0" y="705.7" font-size="8.2" font-weight="bold" font-style="normal" text-anchor="middle" fill="#000">0</text>
<rect x="273" y="519.5" width="242" height="155.0" fill="#f8f8f8" stroke="none" stroke-width="1"/>
<rect x="273" y="519.5" width="242" height="155.0" fill="none" stroke="#b8b8b8" stroke-width="0.8"/>
<line x1="273" y1="519.5" x2="273" y2="616.3" stroke="#8a8a8a" stroke-width="1"/>
<line x1="273" y1="616.3" x2="515" y2="616.3" stroke="#7a7a7a" stroke-width="0.9"/>
<rect x="273.2" y="664.2" width="53.80000000000001" height="10.0" fill="#f06466" stroke="none" stroke-width="1"/>
<rect x="327" y="664.2" width="25" height="10.0" fill="#f2727e" stroke="none" stroke-width="1"/>
<rect x="352" y="664.2" width="28.5" height="10.0" fill="#f27e84" stroke="none" stroke-width="1"/>
<rect x="380.5" y="664.2" width="27.5" height="10.0" fill="#f4b0d0" stroke="none" stroke-width="1"/>
<rect x="408" y="664.2" width="27.5" height="10.0" fill="#cacaea" stroke="none" stroke-width="1"/>
<rect x="435.5" y="664.2" width="16.5" height="10.0" fill="#b0b0dc" stroke="none" stroke-width="1"/>
<rect x="452" y="664.2" width="13" height="10.0" fill="#6474c2" stroke="none" stroke-width="1"/>
<rect x="465" y="664.2" width="30" height="10.0" fill="#4a5ab4" stroke="none" stroke-width="1"/>
<rect x="495" y="664.2" width="8.5" height="10.0" fill="#3646ae" stroke="none" stroke-width="1"/>
<line x1="278.3" y1="630" x2="278.3" y2="664.2" stroke="#2a2a2a" stroke-width="1.25"/>
<line x1="283.6" y1="630" x2="283.6" y2="664.2" stroke="#2a2a2a" stroke-width="1.25"/>
<line x1="284.9" y1="630" x2="284.9" y2="664.2" stroke="#555" stroke-width="1.25"/>
<line x1="286.0" y1="630" x2="286.0" y2="664.2" stroke="#2a2a2a" stroke-width="1.25"/>
<line x1="295.6" y1="630" x2="295.6" y2="664.2" stroke="#666" stroke-width="1.25"/>
<line x1="298.6" y1="630" x2="298.6" y2="664.2" stroke="#2a2a2a" stroke-width="1.25"/>
<line x1="300.1" y1="630" x2="300.1" y2="664.2" stroke="#2a2a2a" stroke-width="1.25"/>
<line x1="301.4" y1="630" x2="301.4" y2="664.2" stroke="#2a2a2a" stroke-width="1.25"/>
<line x1="311" y1="630" x2="311" y2="664.2" stroke="#2a2a2a" stroke-width="1.25"/>
<line x1="317.8" y1="630" x2="317.8" y2="664.2" stroke="#2a2a2a" stroke-width="1.25"/>
<line x1="324.9" y1="630" x2="324.9" y2="664.2" stroke="#2a2a2a" stroke-width="1.25"/>
<line x1="348.1" y1="630" x2="348.1" y2="664.2" stroke="#2a2a2a" stroke-width="1.25"/>
<line x1="370.3" y1="630" x2="370.3" y2="664.2" stroke="#2a2a2a" stroke-width="1.25"/>
<line x1="372.3" y1="630" x2="372.3" y2="664.2" stroke="#444" stroke-width="1.25"/>
<line x1="380.4" y1="630" x2="380.4" y2="664.2" stroke="#777" stroke-width="1.25"/>
<line x1="390.1" y1="630" x2="390.1" y2="664.2" stroke="#2a2a2a" stroke-width="1.25"/>
<line x1="394.5" y1="630" x2="394.5" y2="664.2" stroke="#2a2a2a" stroke-width="1.25"/>
<line x1="406.6" y1="630" x2="406.6" y2="664.2" stroke="#2a2a2a" stroke-width="1.25"/>
<line x1="413.7" y1="630" x2="413.7" y2="664.2" stroke="#2a2a2a" stroke-width="1.25"/>
<line x1="420.0" y1="630" x2="420.0" y2="664.2" stroke="#2a2a2a" stroke-width="1.25"/>
<line x1="421.1" y1="630" x2="421.1" y2="664.2" stroke="#2a2a2a" stroke-width="1.25"/>
<line x1="435.7" y1="630" x2="435.7" y2="664.2" stroke="#2a2a2a" stroke-width="1.25"/>
<line x1="492" y1="630" x2="492" y2="664.2" stroke="#2a2a2a" stroke-width="1.25"/>
<line x1="495" y1="630" x2="495" y2="664.2" stroke="#2a2a2a" stroke-width="1.25"/>
<polyline points="273.1,560 273.5,543.1 275,542.75 278.1,545 279.75,540.6 282.5,542.5 287.25,530.6 295,534.75 296.9,533.1 298.75,533.75 301.9,525 310,529 311.9,527.75 316.9,531 318.75,529 323.75,531.9 325.6,530.6 335,536 345.6,542.3 349,543.2 366.3,554.4 372.4,555.8 420,581.2 440,591.7 492.5,623.4 493.8,619.3 495.2,617.3 495.6,612.6 497.9,613.3 502.6,616.2" fill="none" stroke="#5aa83e" stroke-width="2.2" stroke-linejoin="round"/>
<line x1="267.7" y1="533.8" x2="270.8" y2="533.8" stroke="#000" stroke-width="1.4"/>
<line x1="267.7" y1="616.3" x2="270.8" y2="616.3" stroke="#000" stroke-width="1.4"/>
<text x="265.4" y="536.0" font-size="6.8" font-weight="bold" font-style="normal" text-anchor="end" fill="#000">0.6</text>
<text x="265.4" y="618.5" font-size="6.8" font-weight="bold" font-style="normal" text-anchor="end" fill="#000">0.0</text>
<text x="256.5" y="574.2" font-size="9.1" font-weight="bold" font-style="normal" text-anchor="middle" fill="#000" transform="rotate(-90 256.5 574.2)">enrichment score</text>
<text x="452.7" y="541.1" font-size="9.5" font-weight="bold" font-style="normal" text-anchor="start" fill="#000">NES = 1.86</text>
<text x="452.7" y="552.4" font-size="9.5" font-weight="bold" font-style="normal" text-anchor="start" fill="#000">FDR &lt; .001</text>
<text x="274" y="687.6" font-size="9.2" font-weight="bold" text-anchor="start"><tspan font-style="italic">LIN28B</tspan>-high</text>
<text x="466.3" y="686" font-size="9.2" font-weight="bold" text-anchor="start"><tspan font-style="italic">LIN28B</tspan>-low</text>
<line x1="53.5" y1="768.5" x2="53.5" y2="893.5" stroke="#111" stroke-width="1.0"/>
<line x1="49.1" y1="768.5" x2="53.5" y2="768.5" stroke="#111" stroke-width="1.0"/>
<text x="39.4" y="768.5" font-size="9.9" font-weight="normal" font-style="normal" text-anchor="middle" fill="#000" transform="rotate(-90 39.4 768.5)" dominant-baseline="central" stroke="#000" stroke-width="0.3">10</text>
<line x1="49.1" y1="799.5" x2="53.5" y2="799.5" stroke="#111" stroke-width="1.0"/>
<text x="39.4" y="799.82" font-size="9.9" font-weight="normal" font-style="normal" text-anchor="middle" fill="#000" transform="rotate(-90 39.4 799.82)" dominant-baseline="central" stroke="#000" stroke-width="0.3">8</text>
<line x1="49.1" y1="831.5" x2="53.5" y2="831.5" stroke="#111" stroke-width="1.0"/>
<text x="39.4" y="831.14" font-size="9.9" font-weight="normal" font-style="normal" text-anchor="middle" fill="#000" transform="rotate(-90 39.4 831.14)" dominant-baseline="central" stroke="#000" stroke-width="0.3">6</text>
<line x1="49.1" y1="862.5" x2="53.5" y2="862.5" stroke="#111" stroke-width="1.0"/>
<text x="39.4" y="862.46" font-size="9.9" font-weight="normal" font-style="normal" text-anchor="middle" fill="#000" transform="rotate(-90 39.4 862.46)" dominant-baseline="central" stroke="#000" stroke-width="0.3">4</text>
<line x1="49.1" y1="893.5" x2="53.5" y2="893.5" stroke="#111" stroke-width="1.0"/>
<text x="39.4" y="893.78" font-size="9.9" font-weight="normal" font-style="normal" text-anchor="middle" fill="#000" transform="rotate(-90 39.4 893.78)" dominant-baseline="central" stroke="#000" stroke-width="0.3">2</text>
<line x1="102.5" y1="815.5" x2="102.5" y2="832.5" stroke="#000" stroke-width="1.0" stroke-dasharray="1.5,1.5"/>
<line x1="102.5" y1="856.5" x2="102.5" y2="878.5" stroke="#000" stroke-width="1.0" stroke-dasharray="1.5,1.5"/>
<line x1="86.0" y1="815.5" x2="119.5" y2="815.5" stroke="#000" stroke-width="1.1"/>
<line x1="86.0" y1="878.5" x2="119.5" y2="878.5" stroke="#000" stroke-width="1.1"/>
<rect x="68.5" y="832.5" width="68.0" height="24.0" fill="none" stroke="#1a1a1a" stroke-width="1.05"/>
<line x1="68.5" y1="849" x2="136.5" y2="849" stroke="#000" stroke-width="2.1"/>
<line x1="187.5" y1="782.5" x2="187.5" y2="802.5" stroke="#000" stroke-width="1.0" stroke-dasharray="1.5,1.5"/>
<line x1="187.5" y1="835.5" x2="187.5" y2="863.5" stroke="#000" stroke-width="1.0" stroke-dasharray="1.5,1.5"/>
<line x1="170.0" y1="782.5" x2="203.6" y2="782.5" stroke="#000" stroke-width="1.1"/>
<line x1="170.0" y1="863.5" x2="203.6" y2="863.5" stroke="#000" stroke-width="1.1"/>
<rect x="153.5" y="802.5" width="68.0" height="33.0" fill="none" stroke="#1a1a1a" stroke-width="1.05"/>
<line x1="153.5" y1="814" x2="221.5" y2="814" stroke="#000" stroke-width="2.1"/>
<circle cx="100.8" cy="815.7" r="2.15" fill="#000"/>
<circle cx="106.7" cy="824.3" r="2.15" fill="#000"/>
<circle cx="100.8" cy="831.6" r="2.15" fill="#000"/>
<circle cx="110.2" cy="832.3" r="2.15" fill="#000"/>
<circle cx="101.5" cy="835.8" r="2.15" fill="#000"/>
<circle cx="98.1" cy="846.8" r="2.15" fill="#000"/>
<circle cx="103.3" cy="848.9" r="2.15" fill="#000"/>
<circle cx="110.2" cy="850.7" r="2.15" fill="#000"/>
<circle cx="94.6" cy="853.1" r="2.15" fill="#000"/>
<circle cx="97.4" cy="854.8" r="2.15" fill="#000"/>
<circle cx="99.8" cy="857.2" r="2.15" fill="#000"/>
<circle cx="98.1" cy="861.7" r="2.15" fill="#000"/>
<circle cx="100.8" cy="864.1" r="2.15" fill="#000"/>
<circle cx="94.6" cy="878" r="2.15" fill="#000"/>
<circle cx="188.1" cy="783.2" r="2.15" fill="#000"/>
<circle cx="179.4" cy="789" r="2.15" fill="#000"/>
<circle cx="182.9" cy="794.2" r="2.15" fill="#000"/>
<circle cx="185.3" cy="798.4" r="2.15" fill="#000"/>
<circle cx="181.8" cy="802.9" r="2.15" fill="#000"/>
<circle cx="186.3" cy="803.6" r="2.15" fill="#000"/>
<circle cx="195" cy="804.6" r="2.15" fill="#000"/>
<circle cx="193.3" cy="807.4" r="2.15" fill="#000"/>
<circle cx="188.1" cy="813.3" r="2.15" fill="#000"/>
<circle cx="180.5" cy="815" r="2.15" fill="#000"/>
<circle cx="191.5" cy="821.9" r="2.15" fill="#000"/>
<circle cx="190.8" cy="825.4" r="2.15" fill="#000"/>
<circle cx="179.4" cy="834" r="2.15" fill="#000"/>
<circle cx="183.9" cy="836.5" r="2.15" fill="#000"/>
<circle cx="185.3" cy="839.2" r="2.15" fill="#000"/>
<circle cx="191.5" cy="841" r="2.15" fill="#000"/>
<circle cx="179.4" cy="844.4" r="2.15" fill="#000"/>
<circle cx="182.9" cy="854.8" r="2.15" fill="#000"/>
<circle cx="193.3" cy="856.5" r="2.15" fill="#000"/>
<circle cx="190.8" cy="863.5" r="2.15" fill="#000"/>
<text x="23.4" y="830.1" font-size="9.7" text-anchor="middle" stroke="#000" stroke-width="0.3" transform="rotate(-90 23.4 830.1)">log2 <tspan font-style="italic">HMGA2</tspan> expression</text>
<text x="145.35" y="915.3" font-size="13.3" font-weight="normal" font-style="normal" text-anchor="middle" fill="#000" stroke="#000" stroke-width="0.4">P = .000074</text>
<polyline points="102.2,928.8 102.2,924.6 188,924.6 188,928.8" fill="none" stroke="#000" stroke-width="0.8"/>
<text x="78" y="939.5" font-size="10" font-weight="normal" text-anchor="start" stroke="#000" stroke-width="0.3"><tspan font-style="italic">LIN28B</tspan>-low</text>
<text x="161" y="936.7" font-size="10" font-weight="normal" text-anchor="start" stroke="#000" stroke-width="0.3"><tspan font-style="italic">LIN28B</tspan>-high</text>
<line x1="318.5" y1="769.5" x2="318.5" y2="904.5" stroke="#111" stroke-width="1.0"/>
<line x1="314.1" y1="769.5" x2="318.5" y2="769.5" stroke="#111" stroke-width="1.0"/>
<text x="304.35" y="769.2" font-size="9.9" font-weight="normal" font-style="normal" text-anchor="middle" fill="#000" transform="rotate(-90 304.35 769.2)" dominant-baseline="central" stroke="#000" stroke-width="0.3">14</text>
<line x1="314.1" y1="803.5" x2="318.5" y2="803.5" stroke="#111" stroke-width="1.0"/>
<text x="304.35" y="803.1400000000001" font-size="9.9" font-weight="normal" font-style="normal" text-anchor="middle" fill="#000" transform="rotate(-90 304.35 803.1400000000001)" dominant-baseline="central" stroke="#000" stroke-width="0.3">12</text>
<line x1="314.1" y1="837.5" x2="318.5" y2="837.5" stroke="#111" stroke-width="1.0"/>
<text x="304.35" y="837.08" font-size="9.9" font-weight="normal" font-style="normal" text-anchor="middle" fill="#000" transform="rotate(-90 304.35 837.08)" dominant-baseline="central" stroke="#000" stroke-width="0.3">10</text>
<line x1="314.1" y1="871.5" x2="318.5" y2="871.5" stroke="#111" stroke-width="1.0"/>
<text x="304.35" y="871.02" font-size="9.9" font-weight="normal" font-style="normal" text-anchor="middle" fill="#000" transform="rotate(-90 304.35 871.02)" dominant-baseline="central" stroke="#000" stroke-width="0.3">8</text>
<line x1="314.1" y1="904.5" x2="318.5" y2="904.5" stroke="#111" stroke-width="1.0"/>
<text x="304.35" y="904.96" font-size="9.9" font-weight="normal" font-style="normal" text-anchor="middle" fill="#000" transform="rotate(-90 304.35 904.96)" dominant-baseline="central" stroke="#000" stroke-width="0.3">6</text>
<line x1="367.5" y1="790.5" x2="367.5" y2="809.5" stroke="#000" stroke-width="1.0" stroke-dasharray="1.5,1.5"/>
<line x1="367.5" y1="832.5" x2="367.5" y2="848.5" stroke="#000" stroke-width="1.0" stroke-dasharray="1.5,1.5"/>
<line x1="350.5" y1="790.5" x2="384.0" y2="790.5" stroke="#000" stroke-width="1.1"/>
<line x1="350.5" y1="848.5" x2="384.0" y2="848.5" stroke="#000" stroke-width="1.1"/>
<rect x="333.5" y="809.5" width="68.0" height="23.0" fill="none" stroke="#1a1a1a" stroke-width="1.05"/>
<line x1="333.5" y1="823" x2="401.5" y2="823" stroke="#000" stroke-width="2.1"/>
<line x1="452.5" y1="784.5" x2="452.5" y2="797.5" stroke="#000" stroke-width="1.0" stroke-dasharray="1.5,1.5"/>
<line x1="452.5" y1="817.5" x2="452.5" y2="834.5" stroke="#000" stroke-width="1.0" stroke-dasharray="1.5,1.5"/>
<line x1="435.3" y1="784.5" x2="468.8" y2="784.5" stroke="#000" stroke-width="1.1"/>
<line x1="435.3" y1="834.5" x2="468.8" y2="834.5" stroke="#000" stroke-width="1.1"/>
<rect x="418.5" y="797.5" width="67.0" height="20.0" fill="none" stroke="#1a1a1a" stroke-width="1.05"/>
<line x1="418.5" y1="804" x2="485.5" y2="804" stroke="#000" stroke-width="2.1"/>
<circle cx="359.1" cy="790.8" r="2.15" fill="#000"/>
<circle cx="366.7" cy="797" r="2.15" fill="#000"/>
<circle cx="367.4" cy="798.7" r="2.15" fill="#000"/>
<circle cx="365" cy="803.6" r="2.15" fill="#000"/>
<circle cx="368.5" cy="810.8" r="2.15" fill="#000"/>
<circle cx="373.7" cy="808.1" r="2.15" fill="#000"/>
<circle cx="374.7" cy="815" r="2.15" fill="#000"/>
<circle cx="359.8" cy="821.2" r="2.15" fill="#000"/>
<circle cx="370.2" cy="822.6" r="2.15" fill="#000"/>
<circle cx="374.7" cy="821.9" r="2.15" fill="#000"/>
<circle cx="365.7" cy="827.1" r="2.15" fill="#000"/>
<circle cx="373.7" cy="828.8" r="2.15" fill="#000"/>
<circle cx="371.9" cy="834" r="2.15" fill="#000"/>
<circle cx="374.7" cy="844.4" r="2.15" fill="#000"/>
<circle cx="360.8" cy="847.9" r="2.15" fill="#000"/>
<circle cx="370.2" cy="848.9" r="2.15" fill="#000"/>
<circle cx="359.8" cy="880.1" r="2.15" fill="#000"/>
<circle cx="448.1" cy="784.5" r="2.15" fill="#000"/>
<circle cx="449.8" cy="788" r="2.15" fill="#000"/>
<circle cx="454.3" cy="791.5" r="2.15" fill="#000"/>
<circle cx="453.3" cy="794.9" r="2.15" fill="#000"/>
<circle cx="450.8" cy="797.7" r="2.15" fill="#000"/>
<circle cx="455" cy="797" r="2.15" fill="#000"/>
<circle cx="458.5" cy="797.7" r="2.15" fill="#000"/>
<circle cx="454.3" cy="801.2" r="2.15" fill="#000"/>
<circle cx="457.8" cy="803.9" r="2.15" fill="#000"/>
<circle cx="446.3" cy="805.3" r="2.15" fill="#000"/>
<circle cx="451.5" cy="805.3" r="2.15" fill="#000"/>
<circle cx="444.6" cy="817.8" r="2.15" fill="#000"/>
<circle cx="452.2" cy="814.3" r="2.15" fill="#000"/>
<circle cx="456.7" cy="814.3" r="2.15" fill="#000"/>
<circle cx="453.3" cy="821.2" r="2.15" fill="#000"/>
<circle cx="454.3" cy="823.7" r="2.15" fill="#000"/>
<circle cx="444.6" cy="832.3" r="2.15" fill="#000"/>
<circle cx="456.7" cy="834" r="2.15" fill="#000"/>
<circle cx="457.8" cy="847.9" r="2.15" fill="#000"/>
<text x="288.0" y="832.2" font-size="9.7" text-anchor="middle" stroke="#000" stroke-width="0.3" transform="rotate(-90 288.0 832.2)">log2 <tspan font-style="italic">IGF2BP3</tspan> expression</text>
<text x="408.3" y="914.9" font-size="13.3" font-weight="normal" font-style="normal" text-anchor="middle" fill="#000" stroke="#000" stroke-width="0.4">P = .0068</text>
<polyline points="366.7,931.5 366.7,927.4 451.5,927.4 451.5,931.5" fill="none" stroke="#000" stroke-width="0.8"/>
<text x="343.5" y="941.9" font-size="10" font-weight="normal" text-anchor="start" stroke="#000" stroke-width="0.3"><tspan font-style="italic">LIN28B</tspan>-low</text>
<text x="425.6" y="940.2" font-size="10" font-weight="normal" text-anchor="start" stroke="#000" stroke-width="0.3"><tspan font-style="italic">LIN28B</tspan>-high</text>
</svg>
</body></html>
